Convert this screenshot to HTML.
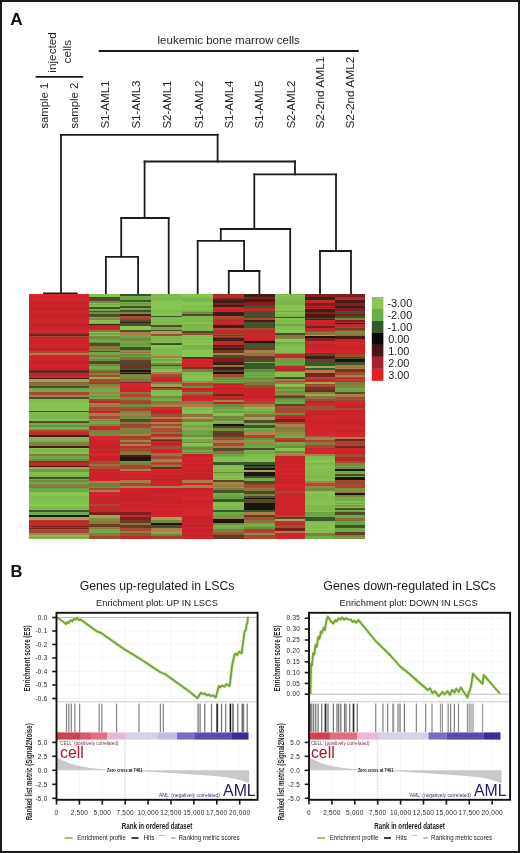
<!DOCTYPE html>
<html><head><meta charset="utf-8"><title>Figure</title>
<style>html,body{margin:0;padding:0;background:#fff;width:520px;height:853px;overflow:hidden}
svg{display:block;font-family:"Liberation Sans",sans-serif;will-change:transform}</style></head>
<body>
<svg width="520" height="853" viewBox="0 0 520 853" font-family='&quot;Liberation Sans&quot;, sans-serif'>
<rect x="0" y="0" width="520" height="853" fill="#ffffff"/>
<text x="10.30" y="25.20" font-size="17.20" text-anchor="start" fill="#111" font-weight="bold" >A</text>
<text transform="translate(56.00,52.40) rotate(-90)" font-size="11.80" text-anchor="middle" fill="#1e1e1e" font-weight="normal">injected</text>
<text transform="translate(70.80,51.70) rotate(-90)" font-size="11.80" text-anchor="middle" fill="#1e1e1e" font-weight="normal">cells</text>
<line x1="35.50" y1="76.80" x2="83.30" y2="76.80" stroke="#1c1c1c" stroke-width="1.80" />
<text x="157.50" y="44.20" font-size="11.80" text-anchor="start" fill="#1e1e1e" font-weight="normal" textLength="142.30" lengthAdjust="spacingAndGlyphs" >leukemic bone marrow cells</text>
<line x1="98.70" y1="51.00" x2="358.80" y2="51.00" stroke="#1c1c1c" stroke-width="1.90" />
<text transform="translate(47.80,128.60) rotate(-90)" font-size="11.30" text-anchor="start" fill="#1e1e1e" font-weight="normal">sample 1</text>
<text transform="translate(78.40,128.60) rotate(-90)" font-size="11.30" text-anchor="start" fill="#1e1e1e" font-weight="normal">sample 2</text>
<text transform="translate(109.30,128.60) rotate(-90)" font-size="11.55" text-anchor="start" fill="#1e1e1e" font-weight="normal">S1-AML1</text>
<text transform="translate(140.30,128.60) rotate(-90)" font-size="11.55" text-anchor="start" fill="#1e1e1e" font-weight="normal">S1-AML3</text>
<text transform="translate(171.40,128.60) rotate(-90)" font-size="11.55" text-anchor="start" fill="#1e1e1e" font-weight="normal">S2-AML1</text>
<text transform="translate(203.40,128.60) rotate(-90)" font-size="11.55" text-anchor="start" fill="#1e1e1e" font-weight="normal">S1-AML2</text>
<text transform="translate(233.20,128.60) rotate(-90)" font-size="11.55" text-anchor="start" fill="#1e1e1e" font-weight="normal">S1-AML4</text>
<text transform="translate(262.60,128.60) rotate(-90)" font-size="11.55" text-anchor="start" fill="#1e1e1e" font-weight="normal">S1-AML5</text>
<text transform="translate(294.50,128.60) rotate(-90)" font-size="11.55" text-anchor="start" fill="#1e1e1e" font-weight="normal">S2-AML2</text>
<text transform="translate(324.40,128.60) rotate(-90)" font-size="11.55" text-anchor="start" fill="#1e1e1e" font-weight="normal" textLength="72.00" lengthAdjust="spacingAndGlyphs">S2-2nd AML1</text>
<text transform="translate(354.40,128.60) rotate(-90)" font-size="11.55" text-anchor="start" fill="#1e1e1e" font-weight="normal" textLength="72.00" lengthAdjust="spacingAndGlyphs">S2-2nd AML2</text>
<g stroke-linecap="square">
<line x1="61.00" y1="134.80" x2="217.60" y2="134.80" stroke="#1c1c1c" stroke-width="1.80" />
<line x1="61.00" y1="134.80" x2="61.00" y2="293.30" stroke="#1c1c1c" stroke-width="1.80" />
<line x1="43.90" y1="293.30" x2="76.80" y2="293.30" stroke="#1c1c1c" stroke-width="1.80" />
<line x1="217.60" y1="134.80" x2="217.60" y2="161.50" stroke="#1c1c1c" stroke-width="1.80" />
<line x1="144.60" y1="161.50" x2="295.00" y2="161.50" stroke="#1c1c1c" stroke-width="1.80" />
<line x1="144.60" y1="161.50" x2="144.60" y2="218.00" stroke="#1c1c1c" stroke-width="1.80" />
<line x1="295.00" y1="161.50" x2="295.00" y2="174.30" stroke="#1c1c1c" stroke-width="1.80" />
<line x1="121.20" y1="218.00" x2="168.70" y2="218.00" stroke="#1c1c1c" stroke-width="1.80" />
<line x1="121.20" y1="218.00" x2="121.20" y2="256.80" stroke="#1c1c1c" stroke-width="1.80" />
<line x1="168.70" y1="218.00" x2="168.70" y2="294.00" stroke="#1c1c1c" stroke-width="1.80" />
<line x1="105.90" y1="256.80" x2="138.10" y2="256.80" stroke="#1c1c1c" stroke-width="1.80" />
<line x1="105.90" y1="256.80" x2="105.90" y2="294.00" stroke="#1c1c1c" stroke-width="1.80" />
<line x1="138.10" y1="256.80" x2="138.10" y2="294.00" stroke="#1c1c1c" stroke-width="1.80" />
<line x1="254.30" y1="174.30" x2="336.00" y2="174.30" stroke="#1c1c1c" stroke-width="1.80" />
<line x1="254.30" y1="174.30" x2="254.30" y2="229.00" stroke="#1c1c1c" stroke-width="1.80" />
<line x1="336.00" y1="174.30" x2="336.00" y2="251.00" stroke="#1c1c1c" stroke-width="1.80" />
<line x1="320.00" y1="251.00" x2="351.00" y2="251.00" stroke="#1c1c1c" stroke-width="1.80" />
<line x1="320.00" y1="251.00" x2="320.00" y2="294.00" stroke="#1c1c1c" stroke-width="1.80" />
<line x1="351.00" y1="251.00" x2="351.00" y2="294.00" stroke="#1c1c1c" stroke-width="1.80" />
<line x1="220.80" y1="229.00" x2="290.20" y2="229.00" stroke="#1c1c1c" stroke-width="1.80" />
<line x1="220.80" y1="229.00" x2="220.80" y2="240.80" stroke="#1c1c1c" stroke-width="1.80" />
<line x1="290.20" y1="229.00" x2="290.20" y2="294.00" stroke="#1c1c1c" stroke-width="1.80" />
<line x1="197.70" y1="240.80" x2="244.10" y2="240.80" stroke="#1c1c1c" stroke-width="1.80" />
<line x1="197.70" y1="240.80" x2="197.70" y2="294.00" stroke="#1c1c1c" stroke-width="1.80" />
<line x1="244.10" y1="240.80" x2="244.10" y2="271.00" stroke="#1c1c1c" stroke-width="1.80" />
<line x1="228.80" y1="271.00" x2="259.40" y2="271.00" stroke="#1c1c1c" stroke-width="1.80" />
<line x1="228.80" y1="271.00" x2="228.80" y2="294.00" stroke="#1c1c1c" stroke-width="1.80" />
<line x1="259.40" y1="271.00" x2="259.40" y2="294.00" stroke="#1c1c1c" stroke-width="1.80" />
</g>
<g shape-rendering="crispEdges">
<rect x="29.0" y="294.00" width="60.0" height="2.00" fill="#d6252b"/>
<rect x="29.0" y="296.00" width="60.0" height="3.00" fill="#d0242a"/>
<rect x="29.0" y="299.00" width="60.0" height="1.00" fill="#d4252b"/>
<rect x="29.0" y="300.00" width="60.0" height="1.00" fill="#ca2329"/>
<rect x="29.0" y="301.00" width="60.0" height="1.00" fill="#d5252b"/>
<rect x="29.0" y="302.00" width="60.0" height="1.50" fill="#c32228"/>
<rect x="29.0" y="303.50" width="60.0" height="3.00" fill="#cb2329"/>
<rect x="29.0" y="306.50" width="60.0" height="1.50" fill="#c42228"/>
<rect x="29.0" y="308.00" width="60.0" height="3.00" fill="#c42228"/>
<rect x="29.0" y="311.00" width="60.0" height="1.00" fill="#d6252b"/>
<rect x="29.0" y="312.00" width="60.0" height="1.00" fill="#cf242a"/>
<rect x="29.0" y="313.00" width="60.0" height="3.00" fill="#c42228"/>
<rect x="29.0" y="316.00" width="60.0" height="1.50" fill="#c42228"/>
<rect x="29.0" y="317.50" width="60.0" height="1.50" fill="#c92329"/>
<rect x="29.0" y="319.00" width="60.0" height="1.50" fill="#ce242a"/>
<rect x="29.0" y="320.50" width="60.0" height="1.00" fill="#ce242a"/>
<rect x="29.0" y="321.50" width="60.0" height="2.80" fill="#bc2c2a"/>
<rect x="29.0" y="324.30" width="60.0" height="1.50" fill="#c52228"/>
<rect x="29.0" y="325.80" width="60.0" height="1.50" fill="#ca2329"/>
<rect x="29.0" y="327.30" width="60.0" height="1.00" fill="#ce242a"/>
<rect x="29.0" y="328.30" width="60.0" height="1.50" fill="#cd242a"/>
<rect x="29.0" y="329.80" width="60.0" height="1.90" fill="#d3252b"/>
<rect x="29.0" y="331.70" width="60.0" height="2.40" fill="#bc2c2a"/>
<rect x="29.0" y="334.10" width="60.0" height="2.00" fill="#7d201e"/>
<rect x="29.0" y="336.10" width="60.0" height="1.20" fill="#a54b30"/>
<rect x="29.0" y="337.30" width="60.0" height="2.00" fill="#c82329"/>
<rect x="29.0" y="339.30" width="60.0" height="1.50" fill="#d1242a"/>
<rect x="29.0" y="340.80" width="60.0" height="1.50" fill="#c42228"/>
<rect x="29.0" y="342.30" width="60.0" height="2.00" fill="#cd242a"/>
<rect x="29.0" y="344.30" width="60.0" height="2.00" fill="#d2242b"/>
<rect x="29.0" y="346.30" width="60.0" height="2.00" fill="#cf242a"/>
<rect x="29.0" y="348.30" width="60.0" height="1.00" fill="#c52228"/>
<rect x="29.0" y="349.30" width="60.0" height="1.40" fill="#c62228"/>
<rect x="29.0" y="350.70" width="60.0" height="0.60" fill="#a54b30"/>
<rect x="29.0" y="351.30" width="60.0" height="1.30" fill="#a54b30"/>
<rect x="29.0" y="352.60" width="60.0" height="2.00" fill="#ac7d48"/>
<rect x="29.0" y="354.60" width="60.0" height="0.10" fill="#a54b30"/>
<rect x="29.0" y="354.70" width="60.0" height="1.00" fill="#d6252c"/>
<rect x="29.0" y="355.70" width="60.0" height="1.00" fill="#d2252b"/>
<rect x="29.0" y="356.70" width="60.0" height="2.00" fill="#ca2329"/>
<rect x="29.0" y="358.70" width="60.0" height="2.00" fill="#cf242a"/>
<rect x="29.0" y="360.70" width="60.0" height="3.00" fill="#c42228"/>
<rect x="29.0" y="363.70" width="60.0" height="1.00" fill="#d6252b"/>
<rect x="29.0" y="364.70" width="60.0" height="3.00" fill="#d1242a"/>
<rect x="29.0" y="367.70" width="60.0" height="1.00" fill="#c42228"/>
<rect x="29.0" y="368.70" width="60.0" height="1.50" fill="#d0242a"/>
<rect x="29.0" y="370.20" width="60.0" height="2.70" fill="#7d201e"/>
<rect x="29.0" y="372.90" width="60.0" height="3.00" fill="#b62b29"/>
<rect x="29.0" y="375.90" width="60.0" height="1.70" fill="#c12d2b"/>
<rect x="29.0" y="377.60" width="60.0" height="1.30" fill="#441e16"/>
<rect x="29.0" y="378.90" width="60.0" height="2.70" fill="#a5a258"/>
<rect x="29.0" y="381.60" width="60.0" height="2.00" fill="#846f3a"/>
<rect x="29.0" y="383.60" width="60.0" height="2.10" fill="#89733c"/>
<rect x="29.0" y="385.70" width="60.0" height="2.00" fill="#504c2a"/>
<rect x="29.0" y="387.70" width="60.0" height="1.00" fill="#6fa847"/>
<rect x="29.0" y="388.70" width="60.0" height="1.50" fill="#72ad49"/>
<rect x="29.0" y="390.20" width="60.0" height="1.50" fill="#72ac49"/>
<rect x="29.0" y="391.70" width="60.0" height="3.00" fill="#a2492f"/>
<rect x="29.0" y="394.70" width="60.0" height="0.40" fill="#9c472e"/>
<rect x="29.0" y="395.10" width="60.0" height="2.00" fill="#ac7d48"/>
<rect x="29.0" y="397.10" width="60.0" height="1.40" fill="#3a582a"/>
<rect x="29.0" y="398.50" width="60.0" height="3.00" fill="#81bb4e"/>
<rect x="29.0" y="401.50" width="60.0" height="2.00" fill="#88c452"/>
<rect x="29.0" y="403.50" width="60.0" height="3.00" fill="#87c452"/>
<rect x="29.0" y="406.50" width="60.0" height="2.00" fill="#85c151"/>
<rect x="29.0" y="408.50" width="60.0" height="2.00" fill="#85c151"/>
<rect x="29.0" y="410.50" width="60.0" height="0.20" fill="#89c653"/>
<rect x="29.0" y="410.70" width="60.0" height="1.30" fill="#504c2a"/>
<rect x="29.0" y="412.00" width="60.0" height="1.50" fill="#7db54c"/>
<rect x="29.0" y="413.50" width="60.0" height="1.50" fill="#7fb84d"/>
<rect x="29.0" y="415.00" width="60.0" height="1.50" fill="#7cb44b"/>
<rect x="29.0" y="416.50" width="60.0" height="1.50" fill="#80b94d"/>
<rect x="29.0" y="418.00" width="60.0" height="1.00" fill="#7eb64c"/>
<rect x="29.0" y="419.00" width="60.0" height="1.80" fill="#84bf50"/>
<rect x="29.0" y="420.80" width="60.0" height="2.00" fill="#504c2a"/>
<rect x="29.0" y="422.80" width="60.0" height="2.00" fill="#70aa48"/>
<rect x="29.0" y="424.80" width="60.0" height="2.00" fill="#768a3e"/>
<rect x="29.0" y="426.80" width="60.0" height="2.00" fill="#74b04b"/>
<rect x="29.0" y="428.80" width="60.0" height="1.00" fill="#6ea847"/>
<rect x="29.0" y="429.80" width="60.0" height="0.40" fill="#6ea747"/>
<rect x="29.0" y="430.20" width="60.0" height="2.00" fill="#a54b30"/>
<rect x="29.0" y="432.20" width="60.0" height="2.70" fill="#bc2c2a"/>
<rect x="29.0" y="434.90" width="60.0" height="2.00" fill="#441e16"/>
<rect x="29.0" y="436.90" width="60.0" height="3.00" fill="#7db64c"/>
<rect x="29.0" y="439.90" width="60.0" height="1.70" fill="#7db54c"/>
<rect x="29.0" y="441.60" width="60.0" height="2.10" fill="#768a3e"/>
<rect x="29.0" y="443.70" width="60.0" height="2.00" fill="#8c763e"/>
<rect x="29.0" y="445.70" width="60.0" height="2.00" fill="#441e16"/>
<rect x="29.0" y="447.70" width="60.0" height="1.00" fill="#89c653"/>
<rect x="29.0" y="448.70" width="60.0" height="3.00" fill="#7eb74c"/>
<rect x="29.0" y="451.70" width="60.0" height="2.00" fill="#84bf50"/>
<rect x="29.0" y="453.70" width="60.0" height="0.70" fill="#7cb44b"/>
<rect x="29.0" y="454.40" width="60.0" height="1.40" fill="#8c763e"/>
<rect x="29.0" y="455.80" width="60.0" height="2.40" fill="#70aa48"/>
<rect x="29.0" y="458.20" width="60.0" height="1.00" fill="#70aa48"/>
<rect x="29.0" y="459.20" width="60.0" height="1.30" fill="#768a3e"/>
<rect x="29.0" y="460.50" width="60.0" height="1.30" fill="#504c2a"/>
<rect x="29.0" y="461.80" width="60.0" height="1.00" fill="#b22a28"/>
<rect x="29.0" y="462.80" width="60.0" height="1.50" fill="#bc2c2a"/>
<rect x="29.0" y="464.30" width="60.0" height="1.50" fill="#bd2c2a"/>
<rect x="29.0" y="465.80" width="60.0" height="0.10" fill="#bc2c2a"/>
<rect x="29.0" y="465.90" width="60.0" height="1.40" fill="#441e16"/>
<rect x="29.0" y="467.30" width="60.0" height="1.40" fill="#a5a258"/>
<rect x="29.0" y="468.70" width="60.0" height="3.00" fill="#6ba245"/>
<rect x="29.0" y="471.70" width="60.0" height="0.30" fill="#74b14b"/>
<rect x="29.0" y="472.00" width="60.0" height="3.00" fill="#82bd4f"/>
<rect x="29.0" y="475.00" width="60.0" height="1.80" fill="#7db54c"/>
<rect x="29.0" y="476.80" width="60.0" height="2.00" fill="#3a582a"/>
<rect x="29.0" y="478.80" width="60.0" height="1.60" fill="#70aa48"/>
<rect x="29.0" y="480.40" width="60.0" height="1.60" fill="#768a3e"/>
<rect x="29.0" y="482.00" width="60.0" height="1.50" fill="#70aa48"/>
<rect x="29.0" y="483.50" width="60.0" height="2.00" fill="#768a3e"/>
<rect x="29.0" y="485.50" width="60.0" height="2.70" fill="#8c763e"/>
<rect x="29.0" y="488.20" width="60.0" height="1.50" fill="#6fa947"/>
<rect x="29.0" y="489.70" width="60.0" height="1.50" fill="#74b04b"/>
<rect x="29.0" y="491.20" width="60.0" height="0.40" fill="#6ba245"/>
<rect x="29.0" y="491.60" width="60.0" height="1.00" fill="#86c251"/>
<rect x="29.0" y="492.60" width="60.0" height="2.00" fill="#89c653"/>
<rect x="29.0" y="494.60" width="60.0" height="1.00" fill="#85c151"/>
<rect x="29.0" y="495.60" width="60.0" height="2.00" fill="#83bd4f"/>
<rect x="29.0" y="497.60" width="60.0" height="1.50" fill="#81ba4e"/>
<rect x="29.0" y="499.10" width="60.0" height="1.50" fill="#83be4f"/>
<rect x="29.0" y="500.60" width="60.0" height="2.00" fill="#84c050"/>
<rect x="29.0" y="502.60" width="60.0" height="1.50" fill="#87c352"/>
<rect x="29.0" y="504.10" width="60.0" height="3.00" fill="#86c251"/>
<rect x="29.0" y="507.10" width="60.0" height="1.50" fill="#7fb74d"/>
<rect x="29.0" y="508.60" width="60.0" height="1.80" fill="#81ba4e"/>
<rect x="29.0" y="510.40" width="60.0" height="2.00" fill="#3a582a"/>
<rect x="29.0" y="512.40" width="60.0" height="2.70" fill="#70aa48"/>
<rect x="29.0" y="515.10" width="60.0" height="2.00" fill="#19160f"/>
<rect x="29.0" y="517.10" width="60.0" height="2.70" fill="#a5a258"/>
<rect x="29.0" y="519.80" width="60.0" height="1.00" fill="#c32e2c"/>
<rect x="29.0" y="520.80" width="60.0" height="2.00" fill="#ba2b29"/>
<rect x="29.0" y="522.80" width="60.0" height="1.50" fill="#be2c2a"/>
<rect x="29.0" y="524.30" width="60.0" height="0.20" fill="#b92b29"/>
<rect x="29.0" y="524.50" width="60.0" height="1.60" fill="#bc2c2a"/>
<rect x="29.0" y="526.10" width="60.0" height="1.00" fill="#7d201e"/>
<rect x="29.0" y="527.10" width="60.0" height="1.30" fill="#bc2c2a"/>
<rect x="29.0" y="528.40" width="60.0" height="0.90" fill="#7d201e"/>
<rect x="29.0" y="529.30" width="60.0" height="1.50" fill="#a34a2f"/>
<rect x="29.0" y="530.80" width="60.0" height="1.80" fill="#9e482e"/>
<rect x="29.0" y="532.60" width="60.0" height="2.00" fill="#ac7d48"/>
<rect x="29.0" y="534.60" width="60.0" height="2.00" fill="#84bf50"/>
<rect x="29.0" y="536.60" width="60.0" height="1.60" fill="#70aa48"/>
<rect x="29.0" y="538.20" width="60.0" height="0.80" fill="#84bf50"/>
<rect x="89.0" y="294.00" width="31.0" height="1.00" fill="#88c552"/>
<rect x="89.0" y="295.00" width="31.0" height="1.50" fill="#82bd4f"/>
<rect x="89.0" y="296.50" width="31.0" height="0.90" fill="#82bc4f"/>
<rect x="89.0" y="297.40" width="31.0" height="2.00" fill="#4c4828"/>
<rect x="89.0" y="299.40" width="31.0" height="2.00" fill="#4f4b29"/>
<rect x="89.0" y="301.40" width="31.0" height="1.40" fill="#768a3e"/>
<rect x="89.0" y="302.80" width="31.0" height="1.30" fill="#84bf50"/>
<rect x="89.0" y="304.10" width="31.0" height="1.30" fill="#70aa48"/>
<rect x="89.0" y="305.40" width="31.0" height="1.30" fill="#84bf50"/>
<rect x="89.0" y="306.70" width="31.0" height="0.10" fill="#70aa48"/>
<rect x="89.0" y="306.80" width="31.0" height="2.00" fill="#3a582a"/>
<rect x="89.0" y="308.80" width="31.0" height="2.40" fill="#70aa48"/>
<rect x="89.0" y="311.20" width="31.0" height="1.00" fill="#3a582a"/>
<rect x="89.0" y="312.20" width="31.0" height="2.00" fill="#768a3e"/>
<rect x="89.0" y="314.20" width="31.0" height="2.40" fill="#504c2a"/>
<rect x="89.0" y="316.60" width="31.0" height="1.60" fill="#70aa48"/>
<rect x="89.0" y="318.20" width="31.0" height="2.10" fill="#768a3e"/>
<rect x="89.0" y="320.30" width="31.0" height="3.00" fill="#85c050"/>
<rect x="89.0" y="323.30" width="31.0" height="1.00" fill="#7eb74c"/>
<rect x="89.0" y="324.30" width="31.0" height="1.00" fill="#441e16"/>
<rect x="89.0" y="325.30" width="31.0" height="1.50" fill="#c32228"/>
<rect x="89.0" y="326.80" width="31.0" height="1.00" fill="#cd242a"/>
<rect x="89.0" y="327.80" width="31.0" height="1.50" fill="#cc2329"/>
<rect x="89.0" y="329.30" width="31.0" height="1.10" fill="#d4252b"/>
<rect x="89.0" y="330.40" width="31.0" height="2.00" fill="#8c763e"/>
<rect x="89.0" y="332.40" width="31.0" height="1.00" fill="#84bf50"/>
<rect x="89.0" y="333.40" width="31.0" height="1.60" fill="#70aa48"/>
<rect x="89.0" y="335.00" width="31.0" height="1.30" fill="#84bf50"/>
<rect x="89.0" y="336.30" width="31.0" height="0.10" fill="#70aa48"/>
<rect x="89.0" y="336.40" width="31.0" height="2.70" fill="#768a3e"/>
<rect x="89.0" y="339.10" width="31.0" height="2.40" fill="#70aa48"/>
<rect x="89.0" y="341.50" width="31.0" height="1.60" fill="#768a3e"/>
<rect x="89.0" y="343.10" width="31.0" height="2.70" fill="#3a582a"/>
<rect x="89.0" y="345.80" width="31.0" height="2.70" fill="#8c763e"/>
<rect x="89.0" y="348.50" width="31.0" height="2.40" fill="#768a3e"/>
<rect x="89.0" y="350.90" width="31.0" height="1.10" fill="#504c2a"/>
<rect x="89.0" y="352.00" width="31.0" height="2.70" fill="#70aa48"/>
<rect x="89.0" y="354.70" width="31.0" height="2.00" fill="#8c763e"/>
<rect x="89.0" y="356.70" width="31.0" height="2.00" fill="#70aa48"/>
<rect x="89.0" y="358.70" width="31.0" height="2.10" fill="#768a3e"/>
<rect x="89.0" y="360.80" width="31.0" height="2.70" fill="#504c2a"/>
<rect x="89.0" y="363.50" width="31.0" height="2.00" fill="#768a3e"/>
<rect x="89.0" y="365.50" width="31.0" height="1.50" fill="#6aa144"/>
<rect x="89.0" y="367.00" width="31.0" height="1.80" fill="#73af4a"/>
<rect x="89.0" y="368.80" width="31.0" height="2.10" fill="#768a3e"/>
<rect x="89.0" y="370.90" width="31.0" height="2.00" fill="#a54b30"/>
<rect x="89.0" y="372.90" width="31.0" height="2.00" fill="#768a3e"/>
<rect x="89.0" y="374.90" width="31.0" height="2.00" fill="#a54b30"/>
<rect x="89.0" y="376.90" width="31.0" height="2.00" fill="#a5a258"/>
<rect x="89.0" y="378.90" width="31.0" height="2.10" fill="#a54b30"/>
<rect x="89.0" y="381.00" width="31.0" height="2.40" fill="#a54b30"/>
<rect x="89.0" y="383.40" width="31.0" height="0.20" fill="#bc2c2a"/>
<rect x="89.0" y="383.60" width="31.0" height="2.70" fill="#768a3e"/>
<rect x="89.0" y="386.30" width="31.0" height="2.10" fill="#ac7d48"/>
<rect x="89.0" y="388.40" width="31.0" height="1.50" fill="#6fa947"/>
<rect x="89.0" y="389.90" width="31.0" height="1.00" fill="#73af4a"/>
<rect x="89.0" y="390.90" width="31.0" height="0.80" fill="#70aa48"/>
<rect x="89.0" y="391.70" width="31.0" height="2.70" fill="#ac7d48"/>
<rect x="89.0" y="394.40" width="31.0" height="1.30" fill="#70aa48"/>
<rect x="89.0" y="395.70" width="31.0" height="1.30" fill="#768a3e"/>
<rect x="89.0" y="397.00" width="31.0" height="1.50" fill="#70aa48"/>
<rect x="89.0" y="398.50" width="31.0" height="2.00" fill="#a54b30"/>
<rect x="89.0" y="400.50" width="31.0" height="2.00" fill="#bc2c2a"/>
<rect x="89.0" y="402.50" width="31.0" height="2.40" fill="#ac7d48"/>
<rect x="89.0" y="404.90" width="31.0" height="1.00" fill="#8c763e"/>
<rect x="89.0" y="405.90" width="31.0" height="0.60" fill="#ac7d48"/>
<rect x="89.0" y="406.50" width="31.0" height="3.00" fill="#a84c31"/>
<rect x="89.0" y="409.50" width="31.0" height="1.00" fill="#aa4d31"/>
<rect x="89.0" y="410.50" width="31.0" height="0.20" fill="#9f482e"/>
<rect x="89.0" y="410.70" width="31.0" height="2.70" fill="#bc2c2a"/>
<rect x="89.0" y="413.40" width="31.0" height="2.70" fill="#ac7d48"/>
<rect x="89.0" y="416.10" width="31.0" height="2.70" fill="#a54b30"/>
<rect x="89.0" y="418.80" width="31.0" height="1.00" fill="#70aa48"/>
<rect x="89.0" y="419.80" width="31.0" height="1.00" fill="#768a3e"/>
<rect x="89.0" y="420.80" width="31.0" height="2.40" fill="#70aa48"/>
<rect x="89.0" y="423.20" width="31.0" height="0.30" fill="#70aa48"/>
<rect x="89.0" y="423.50" width="31.0" height="2.70" fill="#768a3e"/>
<rect x="89.0" y="426.20" width="31.0" height="1.00" fill="#bf2d2b"/>
<rect x="89.0" y="427.20" width="31.0" height="1.00" fill="#b92b29"/>
<rect x="89.0" y="428.20" width="31.0" height="1.50" fill="#be2c2a"/>
<rect x="89.0" y="429.70" width="31.0" height="0.50" fill="#ba2c2a"/>
<rect x="89.0" y="430.20" width="31.0" height="2.00" fill="#8c763e"/>
<rect x="89.0" y="432.20" width="31.0" height="3.00" fill="#75893d"/>
<rect x="89.0" y="435.20" width="31.0" height="1.10" fill="#778b3f"/>
<rect x="89.0" y="436.30" width="31.0" height="2.00" fill="#d6252b"/>
<rect x="89.0" y="438.30" width="31.0" height="1.50" fill="#d4252b"/>
<rect x="89.0" y="439.80" width="31.0" height="1.50" fill="#cb2329"/>
<rect x="89.0" y="441.30" width="31.0" height="3.00" fill="#cc2329"/>
<rect x="89.0" y="444.30" width="31.0" height="1.00" fill="#d0242a"/>
<rect x="89.0" y="445.30" width="31.0" height="3.00" fill="#c42228"/>
<rect x="89.0" y="448.30" width="31.0" height="0.10" fill="#d3252b"/>
<rect x="89.0" y="448.40" width="31.0" height="1.30" fill="#bc2c2a"/>
<rect x="89.0" y="449.70" width="31.0" height="1.50" fill="#d6252b"/>
<rect x="89.0" y="451.20" width="31.0" height="2.00" fill="#c62228"/>
<rect x="89.0" y="453.20" width="31.0" height="1.50" fill="#d7252c"/>
<rect x="89.0" y="454.70" width="31.0" height="1.50" fill="#d2252b"/>
<rect x="89.0" y="456.20" width="31.0" height="1.00" fill="#cb2329"/>
<rect x="89.0" y="457.20" width="31.0" height="3.00" fill="#c62228"/>
<rect x="89.0" y="460.20" width="31.0" height="1.00" fill="#c62228"/>
<rect x="89.0" y="461.20" width="31.0" height="2.70" fill="#a54b30"/>
<rect x="89.0" y="463.90" width="31.0" height="2.10" fill="#8c763e"/>
<rect x="89.0" y="466.00" width="31.0" height="3.00" fill="#ac4e32"/>
<rect x="89.0" y="469.00" width="31.0" height="0.40" fill="#a1492f"/>
<rect x="89.0" y="469.40" width="31.0" height="1.50" fill="#ca2329"/>
<rect x="89.0" y="470.90" width="31.0" height="1.00" fill="#d2242b"/>
<rect x="89.0" y="471.90" width="31.0" height="1.00" fill="#ca2329"/>
<rect x="89.0" y="472.90" width="31.0" height="3.00" fill="#cc2329"/>
<rect x="89.0" y="475.90" width="31.0" height="1.00" fill="#cb2329"/>
<rect x="89.0" y="476.90" width="31.0" height="2.00" fill="#cd242a"/>
<rect x="89.0" y="478.90" width="31.0" height="1.00" fill="#c52228"/>
<rect x="89.0" y="479.90" width="31.0" height="0.90" fill="#d7252c"/>
<rect x="89.0" y="480.80" width="31.0" height="2.00" fill="#ac7d48"/>
<rect x="89.0" y="482.80" width="31.0" height="1.00" fill="#70833b"/>
<rect x="89.0" y="483.80" width="31.0" height="2.00" fill="#6f823b"/>
<rect x="89.0" y="485.80" width="31.0" height="1.50" fill="#72853c"/>
<rect x="89.0" y="487.30" width="31.0" height="0.20" fill="#798d3f"/>
<rect x="89.0" y="487.50" width="31.0" height="2.10" fill="#a54b30"/>
<rect x="89.0" y="489.60" width="31.0" height="2.00" fill="#ac7d48"/>
<rect x="89.0" y="491.60" width="31.0" height="2.00" fill="#cb2329"/>
<rect x="89.0" y="493.60" width="31.0" height="3.00" fill="#d1242a"/>
<rect x="89.0" y="496.60" width="31.0" height="1.00" fill="#c82329"/>
<rect x="89.0" y="497.60" width="31.0" height="2.00" fill="#bc2c2a"/>
<rect x="89.0" y="499.60" width="31.0" height="1.50" fill="#cb2329"/>
<rect x="89.0" y="501.10" width="31.0" height="1.00" fill="#c82329"/>
<rect x="89.0" y="502.10" width="31.0" height="1.00" fill="#d0242a"/>
<rect x="89.0" y="503.10" width="31.0" height="0.60" fill="#c42228"/>
<rect x="89.0" y="503.70" width="31.0" height="2.70" fill="#a54b30"/>
<rect x="89.0" y="506.40" width="31.0" height="1.00" fill="#cf242a"/>
<rect x="89.0" y="507.40" width="31.0" height="1.60" fill="#bc2c2a"/>
<rect x="89.0" y="509.00" width="31.0" height="1.00" fill="#cf242a"/>
<rect x="89.0" y="510.00" width="31.0" height="2.00" fill="#bc2c2a"/>
<rect x="89.0" y="512.00" width="31.0" height="0.40" fill="#cf242a"/>
<rect x="89.0" y="512.40" width="31.0" height="2.70" fill="#7d201e"/>
<rect x="89.0" y="515.10" width="31.0" height="2.70" fill="#a5a258"/>
<rect x="89.0" y="517.80" width="31.0" height="2.00" fill="#7b8f40"/>
<rect x="89.0" y="519.80" width="31.0" height="1.40" fill="#7a8f40"/>
<rect x="89.0" y="521.20" width="31.0" height="2.70" fill="#8c763e"/>
<rect x="89.0" y="523.90" width="31.0" height="2.70" fill="#693c24"/>
<rect x="89.0" y="526.60" width="31.0" height="2.70" fill="#8c763e"/>
<rect x="89.0" y="529.30" width="31.0" height="2.00" fill="#70aa48"/>
<rect x="89.0" y="531.30" width="31.0" height="1.00" fill="#6fa947"/>
<rect x="89.0" y="532.30" width="31.0" height="1.00" fill="#74b04a"/>
<rect x="89.0" y="533.30" width="31.0" height="2.70" fill="#8c763e"/>
<rect x="89.0" y="536.00" width="31.0" height="1.50" fill="#9f482e"/>
<rect x="89.0" y="537.50" width="31.0" height="1.50" fill="#9e482e"/>
<rect x="120.0" y="294.00" width="31.0" height="2.00" fill="#3a582a"/>
<rect x="120.0" y="296.00" width="31.0" height="2.00" fill="#70aa48"/>
<rect x="120.0" y="298.00" width="31.0" height="1.50" fill="#6da546"/>
<rect x="120.0" y="299.50" width="31.0" height="0.50" fill="#6ca446"/>
<rect x="120.0" y="300.00" width="31.0" height="2.00" fill="#3a582a"/>
<rect x="120.0" y="302.00" width="31.0" height="1.00" fill="#74b14b"/>
<rect x="120.0" y="303.00" width="31.0" height="1.00" fill="#69a044"/>
<rect x="120.0" y="304.00" width="31.0" height="1.50" fill="#6fa947"/>
<rect x="120.0" y="305.50" width="31.0" height="2.00" fill="#504c2a"/>
<rect x="120.0" y="307.50" width="31.0" height="2.00" fill="#70aa48"/>
<rect x="120.0" y="309.50" width="31.0" height="2.00" fill="#3a582a"/>
<rect x="120.0" y="311.50" width="31.0" height="0.70" fill="#70aa48"/>
<rect x="120.0" y="312.20" width="31.0" height="2.00" fill="#768a3e"/>
<rect x="120.0" y="314.20" width="31.0" height="2.00" fill="#441e16"/>
<rect x="120.0" y="316.20" width="31.0" height="2.40" fill="#a54b30"/>
<rect x="120.0" y="318.60" width="31.0" height="1.60" fill="#bc2c2a"/>
<rect x="120.0" y="320.20" width="31.0" height="0.10" fill="#a54b30"/>
<rect x="120.0" y="320.30" width="31.0" height="1.60" fill="#504c2a"/>
<rect x="120.0" y="321.90" width="31.0" height="1.30" fill="#441e16"/>
<rect x="120.0" y="323.20" width="31.0" height="0.40" fill="#504c2a"/>
<rect x="120.0" y="323.60" width="31.0" height="2.70" fill="#3a582a"/>
<rect x="120.0" y="326.30" width="31.0" height="3.00" fill="#89c653"/>
<rect x="120.0" y="329.30" width="31.0" height="1.00" fill="#87c452"/>
<rect x="120.0" y="330.30" width="31.0" height="0.10" fill="#7db54c"/>
<rect x="120.0" y="330.40" width="31.0" height="2.00" fill="#504c2a"/>
<rect x="120.0" y="332.40" width="31.0" height="2.70" fill="#ac7d48"/>
<rect x="120.0" y="335.10" width="31.0" height="2.00" fill="#6ea747"/>
<rect x="120.0" y="337.10" width="31.0" height="1.00" fill="#6aa144"/>
<rect x="120.0" y="338.10" width="31.0" height="0.30" fill="#73af4a"/>
<rect x="120.0" y="338.40" width="31.0" height="2.40" fill="#768a3e"/>
<rect x="120.0" y="340.80" width="31.0" height="1.00" fill="#70aa48"/>
<rect x="120.0" y="341.80" width="31.0" height="2.00" fill="#6aa144"/>
<rect x="120.0" y="343.80" width="31.0" height="1.50" fill="#6ba245"/>
<rect x="120.0" y="345.30" width="31.0" height="0.50" fill="#69a044"/>
<rect x="120.0" y="345.80" width="31.0" height="1.60" fill="#70aa48"/>
<rect x="120.0" y="347.40" width="31.0" height="2.40" fill="#504c2a"/>
<rect x="120.0" y="349.80" width="31.0" height="1.60" fill="#768a3e"/>
<rect x="120.0" y="351.40" width="31.0" height="0.60" fill="#70aa48"/>
<rect x="120.0" y="352.00" width="31.0" height="0.70" fill="#8c763e"/>
<rect x="120.0" y="352.70" width="31.0" height="1.60" fill="#70aa48"/>
<rect x="120.0" y="354.30" width="31.0" height="1.30" fill="#768a3e"/>
<rect x="120.0" y="355.60" width="31.0" height="1.10" fill="#70aa48"/>
<rect x="120.0" y="356.70" width="31.0" height="1.50" fill="#846f3a"/>
<rect x="120.0" y="358.20" width="31.0" height="1.90" fill="#85703b"/>
<rect x="120.0" y="360.10" width="31.0" height="2.00" fill="#4f4b2a"/>
<rect x="120.0" y="362.10" width="31.0" height="1.40" fill="#4d4929"/>
<rect x="120.0" y="363.50" width="31.0" height="1.00" fill="#643922"/>
<rect x="120.0" y="364.50" width="31.0" height="1.00" fill="#643922"/>
<rect x="120.0" y="365.50" width="31.0" height="1.00" fill="#673b23"/>
<rect x="120.0" y="366.50" width="31.0" height="0.30" fill="#663a23"/>
<rect x="120.0" y="366.80" width="31.0" height="1.50" fill="#4c4828"/>
<rect x="120.0" y="368.30" width="31.0" height="1.50" fill="#504c2a"/>
<rect x="120.0" y="369.80" width="31.0" height="0.40" fill="#514d2b"/>
<rect x="120.0" y="370.20" width="31.0" height="1.30" fill="#19160f"/>
<rect x="120.0" y="371.50" width="31.0" height="1.60" fill="#504c2a"/>
<rect x="120.0" y="373.10" width="31.0" height="0.50" fill="#19160f"/>
<rect x="120.0" y="373.60" width="31.0" height="1.50" fill="#6f823b"/>
<rect x="120.0" y="375.10" width="31.0" height="3.00" fill="#788c3f"/>
<rect x="120.0" y="378.10" width="31.0" height="0.20" fill="#7a8e40"/>
<rect x="120.0" y="378.30" width="31.0" height="1.00" fill="#8f793f"/>
<rect x="120.0" y="379.30" width="31.0" height="1.50" fill="#85703b"/>
<rect x="120.0" y="380.80" width="31.0" height="0.80" fill="#85703b"/>
<rect x="120.0" y="381.60" width="31.0" height="1.40" fill="#7d201e"/>
<rect x="120.0" y="383.00" width="31.0" height="2.00" fill="#d6252c"/>
<rect x="120.0" y="385.00" width="31.0" height="3.00" fill="#d4252b"/>
<rect x="120.0" y="388.00" width="31.0" height="1.00" fill="#d0242a"/>
<rect x="120.0" y="389.00" width="31.0" height="1.50" fill="#cd242a"/>
<rect x="120.0" y="390.50" width="31.0" height="1.00" fill="#cc2329"/>
<rect x="120.0" y="391.50" width="31.0" height="0.20" fill="#d2252b"/>
<rect x="120.0" y="391.70" width="31.0" height="2.70" fill="#8c763e"/>
<rect x="120.0" y="394.40" width="31.0" height="2.70" fill="#a54b30"/>
<rect x="120.0" y="397.10" width="31.0" height="2.70" fill="#768a3e"/>
<rect x="120.0" y="399.80" width="31.0" height="1.00" fill="#a64b30"/>
<rect x="120.0" y="400.80" width="31.0" height="1.00" fill="#a74c31"/>
<rect x="120.0" y="401.80" width="31.0" height="2.00" fill="#9f482e"/>
<rect x="120.0" y="403.80" width="31.0" height="2.70" fill="#768a3e"/>
<rect x="120.0" y="406.50" width="31.0" height="1.00" fill="#a94d31"/>
<rect x="120.0" y="407.50" width="31.0" height="1.50" fill="#a74c31"/>
<rect x="120.0" y="409.00" width="31.0" height="1.50" fill="#9f482e"/>
<rect x="120.0" y="410.50" width="31.0" height="0.20" fill="#a34a2f"/>
<rect x="120.0" y="410.70" width="31.0" height="2.70" fill="#768a3e"/>
<rect x="120.0" y="413.40" width="31.0" height="2.70" fill="#ac7d48"/>
<rect x="120.0" y="416.10" width="31.0" height="2.70" fill="#768a3e"/>
<rect x="120.0" y="418.80" width="31.0" height="2.70" fill="#504c2a"/>
<rect x="120.0" y="421.50" width="31.0" height="2.70" fill="#8c763e"/>
<rect x="120.0" y="424.20" width="31.0" height="3.00" fill="#9c472d"/>
<rect x="120.0" y="427.20" width="31.0" height="0.30" fill="#a84c31"/>
<rect x="120.0" y="427.50" width="31.0" height="2.70" fill="#8c763e"/>
<rect x="120.0" y="430.20" width="31.0" height="1.50" fill="#70833b"/>
<rect x="120.0" y="431.70" width="31.0" height="1.50" fill="#73863c"/>
<rect x="120.0" y="433.20" width="31.0" height="0.40" fill="#768a3e"/>
<rect x="120.0" y="433.60" width="31.0" height="2.70" fill="#ac7d48"/>
<rect x="120.0" y="436.30" width="31.0" height="1.50" fill="#9b472d"/>
<rect x="120.0" y="437.80" width="31.0" height="1.00" fill="#a34a2f"/>
<rect x="120.0" y="438.80" width="31.0" height="1.00" fill="#a74c30"/>
<rect x="120.0" y="439.80" width="31.0" height="0.50" fill="#a0492f"/>
<rect x="120.0" y="440.30" width="31.0" height="2.00" fill="#ac7d48"/>
<rect x="120.0" y="442.30" width="31.0" height="2.00" fill="#a54b30"/>
<rect x="120.0" y="444.30" width="31.0" height="1.40" fill="#ac7d48"/>
<rect x="120.0" y="445.70" width="31.0" height="2.70" fill="#bc2c2a"/>
<rect x="120.0" y="448.40" width="31.0" height="1.00" fill="#ab4e32"/>
<rect x="120.0" y="449.40" width="31.0" height="1.50" fill="#a0492f"/>
<rect x="120.0" y="450.90" width="31.0" height="1.00" fill="#ab4e32"/>
<rect x="120.0" y="451.90" width="31.0" height="0.50" fill="#a0492f"/>
<rect x="120.0" y="452.40" width="31.0" height="2.70" fill="#8c763e"/>
<rect x="120.0" y="455.10" width="31.0" height="2.00" fill="#441e16"/>
<rect x="120.0" y="457.10" width="31.0" height="1.00" fill="#1a160f"/>
<rect x="120.0" y="458.10" width="31.0" height="2.40" fill="#1a1710"/>
<rect x="120.0" y="460.50" width="31.0" height="2.70" fill="#768a3e"/>
<rect x="120.0" y="463.20" width="31.0" height="2.00" fill="#8c763e"/>
<rect x="120.0" y="465.20" width="31.0" height="3.00" fill="#9f482e"/>
<rect x="120.0" y="468.20" width="31.0" height="0.50" fill="#9c472d"/>
<rect x="120.0" y="468.70" width="31.0" height="2.70" fill="#ac7d48"/>
<rect x="120.0" y="471.40" width="31.0" height="1.00" fill="#c62228"/>
<rect x="120.0" y="472.40" width="31.0" height="2.00" fill="#d6252b"/>
<rect x="120.0" y="474.40" width="31.0" height="1.50" fill="#cf242a"/>
<rect x="120.0" y="475.90" width="31.0" height="2.00" fill="#d5252b"/>
<rect x="120.0" y="477.90" width="31.0" height="1.60" fill="#c72328"/>
<rect x="120.0" y="479.50" width="31.0" height="3.00" fill="#a87a47"/>
<rect x="120.0" y="482.50" width="31.0" height="0.30" fill="#a27644"/>
<rect x="120.0" y="482.80" width="31.0" height="2.70" fill="#a54b30"/>
<rect x="120.0" y="485.50" width="31.0" height="2.70" fill="#ac7d48"/>
<rect x="120.0" y="488.20" width="31.0" height="3.00" fill="#d1242a"/>
<rect x="120.0" y="491.20" width="31.0" height="3.00" fill="#c92329"/>
<rect x="120.0" y="494.20" width="31.0" height="1.50" fill="#cb2329"/>
<rect x="120.0" y="495.70" width="31.0" height="3.00" fill="#c92329"/>
<rect x="120.0" y="498.70" width="31.0" height="2.00" fill="#c32227"/>
<rect x="120.0" y="500.70" width="31.0" height="2.00" fill="#d4252b"/>
<rect x="120.0" y="502.70" width="31.0" height="1.00" fill="#d6252b"/>
<rect x="120.0" y="503.70" width="31.0" height="1.50" fill="#d1242a"/>
<rect x="120.0" y="505.20" width="31.0" height="2.00" fill="#c82329"/>
<rect x="120.0" y="507.20" width="31.0" height="1.00" fill="#cb2329"/>
<rect x="120.0" y="508.20" width="31.0" height="1.00" fill="#ca2329"/>
<rect x="120.0" y="509.20" width="31.0" height="2.60" fill="#d2252b"/>
<rect x="120.0" y="511.80" width="31.0" height="2.70" fill="#7d201e"/>
<rect x="120.0" y="514.50" width="31.0" height="2.60" fill="#bc2c2a"/>
<rect x="120.0" y="517.10" width="31.0" height="2.70" fill="#7d201e"/>
<rect x="120.0" y="519.80" width="31.0" height="2.70" fill="#693c24"/>
<rect x="120.0" y="522.50" width="31.0" height="2.70" fill="#8c763e"/>
<rect x="120.0" y="525.20" width="31.0" height="2.70" fill="#693c24"/>
<rect x="120.0" y="527.90" width="31.0" height="2.70" fill="#a54b30"/>
<rect x="120.0" y="530.60" width="31.0" height="2.70" fill="#768a3e"/>
<rect x="120.0" y="533.30" width="31.0" height="2.70" fill="#a54b30"/>
<rect x="120.0" y="536.00" width="31.0" height="1.00" fill="#b62b29"/>
<rect x="120.0" y="537.00" width="31.0" height="1.00" fill="#c02d2b"/>
<rect x="120.0" y="538.00" width="31.0" height="1.00" fill="#bd2c2a"/>
<rect x="151.0" y="294.00" width="31.0" height="1.50" fill="#7fb84d"/>
<rect x="151.0" y="295.50" width="31.0" height="2.00" fill="#82bc4f"/>
<rect x="151.0" y="297.50" width="31.0" height="2.00" fill="#7fb74d"/>
<rect x="151.0" y="299.50" width="31.0" height="2.00" fill="#86c351"/>
<rect x="151.0" y="301.50" width="31.0" height="3.00" fill="#88c452"/>
<rect x="151.0" y="304.50" width="31.0" height="3.00" fill="#88c553"/>
<rect x="151.0" y="307.50" width="31.0" height="1.50" fill="#86c151"/>
<rect x="151.0" y="309.00" width="31.0" height="1.00" fill="#88c553"/>
<rect x="151.0" y="310.00" width="31.0" height="3.00" fill="#82bc4f"/>
<rect x="151.0" y="313.00" width="31.0" height="1.50" fill="#85c050"/>
<rect x="151.0" y="314.50" width="31.0" height="1.10" fill="#82bd4f"/>
<rect x="151.0" y="315.60" width="31.0" height="1.30" fill="#3a582a"/>
<rect x="151.0" y="316.90" width="31.0" height="1.50" fill="#7eb74d"/>
<rect x="151.0" y="318.40" width="31.0" height="3.00" fill="#81ba4e"/>
<rect x="151.0" y="321.40" width="31.0" height="2.00" fill="#7fb84d"/>
<rect x="151.0" y="323.40" width="31.0" height="1.60" fill="#81bb4e"/>
<rect x="151.0" y="325.00" width="31.0" height="2.00" fill="#504c2a"/>
<rect x="151.0" y="327.00" width="31.0" height="2.70" fill="#70aa48"/>
<rect x="151.0" y="329.70" width="31.0" height="1.30" fill="#504c2a"/>
<rect x="151.0" y="331.00" width="31.0" height="2.70" fill="#a5a258"/>
<rect x="151.0" y="333.70" width="31.0" height="2.00" fill="#a54b30"/>
<rect x="151.0" y="335.70" width="31.0" height="1.50" fill="#80b94e"/>
<rect x="151.0" y="337.20" width="31.0" height="3.00" fill="#7eb64c"/>
<rect x="151.0" y="340.20" width="31.0" height="1.50" fill="#7db54c"/>
<rect x="151.0" y="341.70" width="31.0" height="1.40" fill="#83be50"/>
<rect x="151.0" y="343.10" width="31.0" height="2.10" fill="#3a582a"/>
<rect x="151.0" y="345.20" width="31.0" height="3.00" fill="#88c552"/>
<rect x="151.0" y="348.20" width="31.0" height="3.00" fill="#82bc4f"/>
<rect x="151.0" y="351.20" width="31.0" height="1.50" fill="#7fb84d"/>
<rect x="151.0" y="352.70" width="31.0" height="1.50" fill="#81ba4e"/>
<rect x="151.0" y="354.20" width="31.0" height="1.00" fill="#80ba4e"/>
<rect x="151.0" y="355.20" width="31.0" height="0.80" fill="#7fb84d"/>
<rect x="151.0" y="356.00" width="31.0" height="2.10" fill="#ac7d48"/>
<rect x="151.0" y="358.10" width="31.0" height="1.00" fill="#84bf50"/>
<rect x="151.0" y="359.10" width="31.0" height="2.00" fill="#70aa48"/>
<rect x="151.0" y="361.10" width="31.0" height="1.70" fill="#84bf50"/>
<rect x="151.0" y="362.80" width="31.0" height="2.00" fill="#768a3e"/>
<rect x="151.0" y="364.80" width="31.0" height="1.40" fill="#3a582a"/>
<rect x="151.0" y="366.20" width="31.0" height="2.60" fill="#70aa48"/>
<rect x="151.0" y="368.80" width="31.0" height="2.70" fill="#84bf50"/>
<rect x="151.0" y="371.50" width="31.0" height="2.70" fill="#ac7d48"/>
<rect x="151.0" y="374.20" width="31.0" height="2.70" fill="#a54b30"/>
<rect x="151.0" y="376.90" width="31.0" height="3.00" fill="#d2252b"/>
<rect x="151.0" y="379.90" width="31.0" height="1.50" fill="#ca2329"/>
<rect x="151.0" y="381.40" width="31.0" height="0.20" fill="#d2252b"/>
<rect x="151.0" y="381.60" width="31.0" height="2.00" fill="#8c763e"/>
<rect x="151.0" y="383.60" width="31.0" height="3.00" fill="#a09d55"/>
<rect x="151.0" y="386.60" width="31.0" height="0.40" fill="#9d9a54"/>
<rect x="151.0" y="387.00" width="31.0" height="1.00" fill="#7d201e"/>
<rect x="151.0" y="388.00" width="31.0" height="1.60" fill="#a54b30"/>
<rect x="151.0" y="389.60" width="31.0" height="0.10" fill="#7d201e"/>
<rect x="151.0" y="389.70" width="31.0" height="3.00" fill="#81bb4e"/>
<rect x="151.0" y="392.70" width="31.0" height="3.00" fill="#82bc4f"/>
<rect x="151.0" y="395.70" width="31.0" height="0.10" fill="#87c452"/>
<rect x="151.0" y="395.80" width="31.0" height="2.00" fill="#768a3e"/>
<rect x="151.0" y="397.80" width="31.0" height="1.00" fill="#6ba245"/>
<rect x="151.0" y="398.80" width="31.0" height="2.30" fill="#71ac49"/>
<rect x="151.0" y="401.10" width="31.0" height="2.70" fill="#8c763e"/>
<rect x="151.0" y="403.80" width="31.0" height="2.70" fill="#ac7d48"/>
<rect x="151.0" y="406.50" width="31.0" height="3.00" fill="#d7252c"/>
<rect x="151.0" y="409.50" width="31.0" height="3.00" fill="#c32227"/>
<rect x="151.0" y="412.50" width="31.0" height="1.50" fill="#d6252b"/>
<rect x="151.0" y="414.00" width="31.0" height="2.70" fill="#a54b30"/>
<rect x="151.0" y="416.70" width="31.0" height="2.10" fill="#ac7d48"/>
<rect x="151.0" y="418.80" width="31.0" height="2.70" fill="#bc2c2a"/>
<rect x="151.0" y="421.50" width="31.0" height="2.00" fill="#ac7d48"/>
<rect x="151.0" y="423.50" width="31.0" height="2.70" fill="#a54b30"/>
<rect x="151.0" y="426.20" width="31.0" height="2.00" fill="#ac7d48"/>
<rect x="151.0" y="428.20" width="31.0" height="3.00" fill="#ab4e32"/>
<rect x="151.0" y="431.20" width="31.0" height="0.40" fill="#a84c31"/>
<rect x="151.0" y="431.60" width="31.0" height="2.60" fill="#8c763e"/>
<rect x="151.0" y="434.20" width="31.0" height="1.30" fill="#bc2c2a"/>
<rect x="151.0" y="435.50" width="31.0" height="1.30" fill="#a54b30"/>
<rect x="151.0" y="436.80" width="31.0" height="2.40" fill="#ac7d48"/>
<rect x="151.0" y="439.20" width="31.0" height="0.40" fill="#bc2c2a"/>
<rect x="151.0" y="439.60" width="31.0" height="1.00" fill="#7d201e"/>
<rect x="151.0" y="440.60" width="31.0" height="2.40" fill="#bc2c2a"/>
<rect x="151.0" y="443.00" width="31.0" height="1.00" fill="#c32227"/>
<rect x="151.0" y="444.00" width="31.0" height="1.50" fill="#c72328"/>
<rect x="151.0" y="445.50" width="31.0" height="0.90" fill="#d0242a"/>
<rect x="151.0" y="446.40" width="31.0" height="2.60" fill="#a54b30"/>
<rect x="151.0" y="449.00" width="31.0" height="2.00" fill="#d7252c"/>
<rect x="151.0" y="451.00" width="31.0" height="2.00" fill="#ce242a"/>
<rect x="151.0" y="453.00" width="31.0" height="0.10" fill="#d1242a"/>
<rect x="151.0" y="453.10" width="31.0" height="2.70" fill="#8c763e"/>
<rect x="151.0" y="455.80" width="31.0" height="2.70" fill="#a54b30"/>
<rect x="151.0" y="458.50" width="31.0" height="1.00" fill="#a37744"/>
<rect x="151.0" y="459.50" width="31.0" height="2.00" fill="#ab7c47"/>
<rect x="151.0" y="461.50" width="31.0" height="0.30" fill="#a87a46"/>
<rect x="151.0" y="461.80" width="31.0" height="1.50" fill="#a84c31"/>
<rect x="151.0" y="463.30" width="31.0" height="1.00" fill="#9b472d"/>
<rect x="151.0" y="464.30" width="31.0" height="0.90" fill="#ac4e32"/>
<rect x="151.0" y="465.20" width="31.0" height="2.10" fill="#8c763e"/>
<rect x="151.0" y="467.30" width="31.0" height="2.10" fill="#7d201e"/>
<rect x="151.0" y="469.40" width="31.0" height="2.00" fill="#d6252c"/>
<rect x="151.0" y="471.40" width="31.0" height="1.50" fill="#cc2429"/>
<rect x="151.0" y="472.90" width="31.0" height="1.50" fill="#ce242a"/>
<rect x="151.0" y="474.40" width="31.0" height="1.00" fill="#d6252c"/>
<rect x="151.0" y="475.40" width="31.0" height="2.00" fill="#c42228"/>
<rect x="151.0" y="477.40" width="31.0" height="1.50" fill="#cd242a"/>
<rect x="151.0" y="478.90" width="31.0" height="3.00" fill="#c42228"/>
<rect x="151.0" y="481.90" width="31.0" height="1.50" fill="#d0242a"/>
<rect x="151.0" y="483.40" width="31.0" height="2.00" fill="#c72328"/>
<rect x="151.0" y="485.40" width="31.0" height="0.10" fill="#d1242a"/>
<rect x="151.0" y="485.50" width="31.0" height="2.70" fill="#ac7d48"/>
<rect x="151.0" y="488.20" width="31.0" height="3.00" fill="#ca2329"/>
<rect x="151.0" y="491.20" width="31.0" height="3.00" fill="#c72328"/>
<rect x="151.0" y="494.20" width="31.0" height="2.00" fill="#d2252b"/>
<rect x="151.0" y="496.20" width="31.0" height="1.00" fill="#c72328"/>
<rect x="151.0" y="497.20" width="31.0" height="1.50" fill="#c92329"/>
<rect x="151.0" y="498.70" width="31.0" height="1.50" fill="#c72328"/>
<rect x="151.0" y="500.20" width="31.0" height="1.50" fill="#c82329"/>
<rect x="151.0" y="501.70" width="31.0" height="2.00" fill="#c52228"/>
<rect x="151.0" y="503.70" width="31.0" height="3.00" fill="#cf242a"/>
<rect x="151.0" y="506.70" width="31.0" height="1.50" fill="#cd242a"/>
<rect x="151.0" y="508.20" width="31.0" height="1.00" fill="#d6252b"/>
<rect x="151.0" y="509.20" width="31.0" height="1.50" fill="#d6252b"/>
<rect x="151.0" y="510.70" width="31.0" height="1.00" fill="#c72328"/>
<rect x="151.0" y="511.70" width="31.0" height="1.50" fill="#cb2329"/>
<rect x="151.0" y="513.20" width="31.0" height="1.00" fill="#c62328"/>
<rect x="151.0" y="514.20" width="31.0" height="2.90" fill="#d5252b"/>
<rect x="151.0" y="517.10" width="31.0" height="2.70" fill="#a5a258"/>
<rect x="151.0" y="519.80" width="31.0" height="2.70" fill="#768a3e"/>
<rect x="151.0" y="522.50" width="31.0" height="2.70" fill="#19160f"/>
<rect x="151.0" y="525.20" width="31.0" height="2.70" fill="#504c2a"/>
<rect x="151.0" y="527.90" width="31.0" height="2.70" fill="#ac7d48"/>
<rect x="151.0" y="530.60" width="31.0" height="2.00" fill="#71ac49"/>
<rect x="151.0" y="532.60" width="31.0" height="1.00" fill="#74b04a"/>
<rect x="151.0" y="533.60" width="31.0" height="0.40" fill="#6ba345"/>
<rect x="151.0" y="534.00" width="31.0" height="2.00" fill="#8c763e"/>
<rect x="151.0" y="536.00" width="31.0" height="3.00" fill="#9c472d"/>
<rect x="182.0" y="294.00" width="31.0" height="3.00" fill="#87c452"/>
<rect x="182.0" y="297.00" width="31.0" height="2.00" fill="#82bc4f"/>
<rect x="182.0" y="299.00" width="31.0" height="1.00" fill="#7cb44b"/>
<rect x="182.0" y="300.00" width="31.0" height="2.00" fill="#7db54c"/>
<rect x="182.0" y="302.00" width="31.0" height="3.00" fill="#89c653"/>
<rect x="182.0" y="305.00" width="31.0" height="1.00" fill="#83be50"/>
<rect x="182.0" y="306.00" width="31.0" height="1.50" fill="#81bb4e"/>
<rect x="182.0" y="307.50" width="31.0" height="2.00" fill="#87c352"/>
<rect x="182.0" y="309.50" width="31.0" height="2.00" fill="#7db54c"/>
<rect x="182.0" y="311.50" width="31.0" height="2.70" fill="#768a3e"/>
<rect x="182.0" y="314.20" width="31.0" height="2.00" fill="#504c2a"/>
<rect x="182.0" y="316.20" width="31.0" height="3.00" fill="#7fb74d"/>
<rect x="182.0" y="319.20" width="31.0" height="3.00" fill="#7fb74d"/>
<rect x="182.0" y="322.20" width="31.0" height="2.00" fill="#86c251"/>
<rect x="182.0" y="324.20" width="31.0" height="3.00" fill="#7cb44b"/>
<rect x="182.0" y="327.20" width="31.0" height="3.00" fill="#7fb84d"/>
<rect x="182.0" y="330.20" width="31.0" height="0.80" fill="#7db44c"/>
<rect x="182.0" y="331.00" width="31.0" height="2.00" fill="#504c2a"/>
<rect x="182.0" y="333.00" width="31.0" height="2.00" fill="#a54b30"/>
<rect x="182.0" y="335.00" width="31.0" height="1.00" fill="#82bc4f"/>
<rect x="182.0" y="336.00" width="31.0" height="1.00" fill="#7fb84d"/>
<rect x="182.0" y="337.00" width="31.0" height="1.00" fill="#88c552"/>
<rect x="182.0" y="338.00" width="31.0" height="2.00" fill="#81ba4e"/>
<rect x="182.0" y="340.00" width="31.0" height="2.00" fill="#89c653"/>
<rect x="182.0" y="342.00" width="31.0" height="1.00" fill="#80b94d"/>
<rect x="182.0" y="343.00" width="31.0" height="2.00" fill="#88c553"/>
<rect x="182.0" y="345.00" width="31.0" height="2.00" fill="#7cb44b"/>
<rect x="182.0" y="347.00" width="31.0" height="1.00" fill="#7cb44b"/>
<rect x="182.0" y="348.00" width="31.0" height="1.50" fill="#7db64c"/>
<rect x="182.0" y="349.50" width="31.0" height="3.00" fill="#89c653"/>
<rect x="182.0" y="352.50" width="31.0" height="3.00" fill="#87c352"/>
<rect x="182.0" y="355.50" width="31.0" height="1.90" fill="#87c352"/>
<rect x="182.0" y="357.40" width="31.0" height="2.00" fill="#7d201e"/>
<rect x="182.0" y="359.40" width="31.0" height="1.50" fill="#d6252b"/>
<rect x="182.0" y="360.90" width="31.0" height="1.50" fill="#c32228"/>
<rect x="182.0" y="362.40" width="31.0" height="2.00" fill="#d4252b"/>
<rect x="182.0" y="364.40" width="31.0" height="1.50" fill="#cf242a"/>
<rect x="182.0" y="365.90" width="31.0" height="0.90" fill="#d4252b"/>
<rect x="182.0" y="366.80" width="31.0" height="2.00" fill="#693c24"/>
<rect x="182.0" y="368.80" width="31.0" height="2.70" fill="#8c763e"/>
<rect x="182.0" y="371.50" width="31.0" height="3.00" fill="#81ba4e"/>
<rect x="182.0" y="374.50" width="31.0" height="1.00" fill="#83bd4f"/>
<rect x="182.0" y="375.50" width="31.0" height="3.00" fill="#86c251"/>
<rect x="182.0" y="378.50" width="31.0" height="1.50" fill="#81bb4e"/>
<rect x="182.0" y="380.00" width="31.0" height="1.00" fill="#82bd4f"/>
<rect x="182.0" y="381.00" width="31.0" height="2.00" fill="#ac7d48"/>
<rect x="182.0" y="383.00" width="31.0" height="2.70" fill="#a54b30"/>
<rect x="182.0" y="385.70" width="31.0" height="2.70" fill="#768a3e"/>
<rect x="182.0" y="388.40" width="31.0" height="2.00" fill="#c62228"/>
<rect x="182.0" y="390.40" width="31.0" height="1.30" fill="#d5252b"/>
<rect x="182.0" y="391.70" width="31.0" height="2.00" fill="#768a3e"/>
<rect x="182.0" y="393.70" width="31.0" height="2.10" fill="#a54b30"/>
<rect x="182.0" y="395.80" width="31.0" height="1.00" fill="#c82329"/>
<rect x="182.0" y="396.80" width="31.0" height="1.00" fill="#c72328"/>
<rect x="182.0" y="397.80" width="31.0" height="3.00" fill="#cd242a"/>
<rect x="182.0" y="400.80" width="31.0" height="0.30" fill="#c62228"/>
<rect x="182.0" y="401.10" width="31.0" height="2.70" fill="#8c763e"/>
<rect x="182.0" y="403.80" width="31.0" height="2.70" fill="#ac7d48"/>
<rect x="182.0" y="406.50" width="31.0" height="2.00" fill="#84bf50"/>
<rect x="182.0" y="408.50" width="31.0" height="1.50" fill="#a5a258"/>
<rect x="182.0" y="410.00" width="31.0" height="1.50" fill="#86c251"/>
<rect x="182.0" y="411.50" width="31.0" height="1.00" fill="#86c251"/>
<rect x="182.0" y="412.50" width="31.0" height="1.50" fill="#80b94e"/>
<rect x="182.0" y="414.00" width="31.0" height="2.70" fill="#8c763e"/>
<rect x="182.0" y="416.70" width="31.0" height="2.10" fill="#a5a258"/>
<rect x="182.0" y="418.80" width="31.0" height="2.70" fill="#8c763e"/>
<rect x="182.0" y="421.50" width="31.0" height="2.00" fill="#81bb4e"/>
<rect x="182.0" y="423.50" width="31.0" height="1.30" fill="#7fb74d"/>
<rect x="182.0" y="424.80" width="31.0" height="2.70" fill="#70aa48"/>
<rect x="182.0" y="427.50" width="31.0" height="2.70" fill="#a5a258"/>
<rect x="182.0" y="430.20" width="31.0" height="1.50" fill="#6ba345"/>
<rect x="182.0" y="431.70" width="31.0" height="1.50" fill="#6ba245"/>
<rect x="182.0" y="433.20" width="31.0" height="1.50" fill="#6da546"/>
<rect x="182.0" y="434.70" width="31.0" height="0.20" fill="#6ca445"/>
<rect x="182.0" y="434.90" width="31.0" height="2.00" fill="#768a3e"/>
<rect x="182.0" y="436.90" width="31.0" height="2.40" fill="#84bf50"/>
<rect x="182.0" y="439.30" width="31.0" height="2.40" fill="#70aa48"/>
<rect x="182.0" y="441.70" width="31.0" height="1.30" fill="#768a3e"/>
<rect x="182.0" y="443.00" width="31.0" height="1.00" fill="#84bf50"/>
<rect x="182.0" y="444.00" width="31.0" height="2.00" fill="#84bf50"/>
<rect x="182.0" y="446.00" width="31.0" height="1.00" fill="#70aa48"/>
<rect x="182.0" y="447.00" width="31.0" height="1.00" fill="#768a3e"/>
<rect x="182.0" y="448.00" width="31.0" height="0.40" fill="#84bf50"/>
<rect x="182.0" y="448.40" width="31.0" height="1.30" fill="#768a3e"/>
<rect x="182.0" y="449.70" width="31.0" height="2.00" fill="#70aa48"/>
<rect x="182.0" y="451.70" width="31.0" height="1.60" fill="#768a3e"/>
<rect x="182.0" y="453.30" width="31.0" height="0.50" fill="#70aa48"/>
<rect x="182.0" y="453.80" width="31.0" height="2.00" fill="#c72328"/>
<rect x="182.0" y="455.80" width="31.0" height="1.00" fill="#c72328"/>
<rect x="182.0" y="456.80" width="31.0" height="1.50" fill="#d6252b"/>
<rect x="182.0" y="458.30" width="31.0" height="2.00" fill="#cd242a"/>
<rect x="182.0" y="460.30" width="31.0" height="1.50" fill="#cc2329"/>
<rect x="182.0" y="461.80" width="31.0" height="2.00" fill="#d3252b"/>
<rect x="182.0" y="463.80" width="31.0" height="1.00" fill="#c52228"/>
<rect x="182.0" y="464.80" width="31.0" height="2.00" fill="#c72328"/>
<rect x="182.0" y="466.80" width="31.0" height="2.00" fill="#ca2329"/>
<rect x="182.0" y="468.80" width="31.0" height="1.00" fill="#c72328"/>
<rect x="182.0" y="469.80" width="31.0" height="2.00" fill="#c32228"/>
<rect x="182.0" y="471.80" width="31.0" height="1.50" fill="#d3252b"/>
<rect x="182.0" y="473.30" width="31.0" height="2.00" fill="#cb2329"/>
<rect x="182.0" y="475.30" width="31.0" height="2.00" fill="#c62328"/>
<rect x="182.0" y="477.30" width="31.0" height="2.00" fill="#c42228"/>
<rect x="182.0" y="479.30" width="31.0" height="0.80" fill="#d3252b"/>
<rect x="182.0" y="480.10" width="31.0" height="2.70" fill="#ac7d48"/>
<rect x="182.0" y="482.80" width="31.0" height="2.00" fill="#cf242a"/>
<rect x="182.0" y="484.80" width="31.0" height="2.70" fill="#ac7d48"/>
<rect x="182.0" y="487.50" width="31.0" height="3.00" fill="#c42228"/>
<rect x="182.0" y="490.50" width="31.0" height="1.00" fill="#d3252b"/>
<rect x="182.0" y="491.50" width="31.0" height="1.50" fill="#d0242a"/>
<rect x="182.0" y="493.00" width="31.0" height="1.00" fill="#d0242a"/>
<rect x="182.0" y="494.00" width="31.0" height="3.00" fill="#d1242a"/>
<rect x="182.0" y="497.00" width="31.0" height="3.00" fill="#d7252c"/>
<rect x="182.0" y="500.00" width="31.0" height="2.00" fill="#cb2329"/>
<rect x="182.0" y="502.00" width="31.0" height="1.00" fill="#c92329"/>
<rect x="182.0" y="503.00" width="31.0" height="2.00" fill="#cb2329"/>
<rect x="182.0" y="505.00" width="31.0" height="1.00" fill="#d4252b"/>
<rect x="182.0" y="506.00" width="31.0" height="2.00" fill="#d0242a"/>
<rect x="182.0" y="508.00" width="31.0" height="3.00" fill="#d2242b"/>
<rect x="182.0" y="511.00" width="31.0" height="1.50" fill="#d6252b"/>
<rect x="182.0" y="512.50" width="31.0" height="3.00" fill="#d5252b"/>
<rect x="182.0" y="515.50" width="31.0" height="3.00" fill="#c52228"/>
<rect x="182.0" y="518.50" width="31.0" height="1.00" fill="#cb2329"/>
<rect x="182.0" y="519.50" width="31.0" height="2.00" fill="#cc2329"/>
<rect x="182.0" y="521.50" width="31.0" height="1.50" fill="#c52228"/>
<rect x="182.0" y="523.00" width="31.0" height="1.00" fill="#ce242a"/>
<rect x="182.0" y="524.00" width="31.0" height="3.00" fill="#c42228"/>
<rect x="182.0" y="527.00" width="31.0" height="2.00" fill="#d2242b"/>
<rect x="182.0" y="529.00" width="31.0" height="1.50" fill="#c62228"/>
<rect x="182.0" y="530.50" width="31.0" height="2.00" fill="#c62228"/>
<rect x="182.0" y="532.50" width="31.0" height="1.50" fill="#d6252b"/>
<rect x="182.0" y="534.00" width="31.0" height="1.00" fill="#cb2329"/>
<rect x="182.0" y="535.00" width="31.0" height="1.50" fill="#c92329"/>
<rect x="182.0" y="536.50" width="31.0" height="1.00" fill="#d7252c"/>
<rect x="182.0" y="537.50" width="31.0" height="1.50" fill="#c92329"/>
<rect x="213.0" y="294.00" width="31.0" height="3.00" fill="#b22a28"/>
<rect x="213.0" y="297.00" width="31.0" height="1.00" fill="#bd2c2a"/>
<rect x="213.0" y="298.00" width="31.0" height="2.00" fill="#7d201e"/>
<rect x="213.0" y="300.00" width="31.0" height="2.80" fill="#441e16"/>
<rect x="213.0" y="302.80" width="31.0" height="2.40" fill="#7d201e"/>
<rect x="213.0" y="305.20" width="31.0" height="1.60" fill="#441e16"/>
<rect x="213.0" y="306.80" width="31.0" height="1.50" fill="#d4252b"/>
<rect x="213.0" y="308.30" width="31.0" height="1.50" fill="#ce242a"/>
<rect x="213.0" y="309.80" width="31.0" height="1.00" fill="#cb2329"/>
<rect x="213.0" y="310.80" width="31.0" height="1.40" fill="#cb2329"/>
<rect x="213.0" y="312.20" width="31.0" height="1.00" fill="#411d15"/>
<rect x="213.0" y="313.20" width="31.0" height="1.50" fill="#401c15"/>
<rect x="213.0" y="314.70" width="31.0" height="1.00" fill="#441e16"/>
<rect x="213.0" y="315.70" width="31.0" height="0.50" fill="#411d15"/>
<rect x="213.0" y="316.20" width="31.0" height="2.80" fill="#a54b30"/>
<rect x="213.0" y="319.00" width="31.0" height="3.00" fill="#bb2c2a"/>
<rect x="213.0" y="322.00" width="31.0" height="2.00" fill="#bd2c2a"/>
<rect x="213.0" y="324.00" width="31.0" height="1.00" fill="#bc2c2a"/>
<rect x="213.0" y="325.00" width="31.0" height="2.70" fill="#441e16"/>
<rect x="213.0" y="327.70" width="31.0" height="2.70" fill="#a54b30"/>
<rect x="213.0" y="330.40" width="31.0" height="3.00" fill="#b82b29"/>
<rect x="213.0" y="333.40" width="31.0" height="0.30" fill="#b92b29"/>
<rect x="213.0" y="333.70" width="31.0" height="1.30" fill="#a54b30"/>
<rect x="213.0" y="335.00" width="31.0" height="1.00" fill="#504c2a"/>
<rect x="213.0" y="336.00" width="31.0" height="1.00" fill="#a54b30"/>
<rect x="213.0" y="337.00" width="31.0" height="1.40" fill="#504c2a"/>
<rect x="213.0" y="338.40" width="31.0" height="2.60" fill="#441e16"/>
<rect x="213.0" y="341.00" width="31.0" height="3.00" fill="#b92b29"/>
<rect x="213.0" y="344.00" width="31.0" height="1.00" fill="#bf2d2b"/>
<rect x="213.0" y="345.00" width="31.0" height="1.30" fill="#441e16"/>
<rect x="213.0" y="346.30" width="31.0" height="2.00" fill="#7d201e"/>
<rect x="213.0" y="348.30" width="31.0" height="1.70" fill="#441e16"/>
<rect x="213.0" y="350.00" width="31.0" height="2.70" fill="#693c24"/>
<rect x="213.0" y="352.70" width="31.0" height="2.70" fill="#ac7d48"/>
<rect x="213.0" y="355.40" width="31.0" height="2.70" fill="#504c2a"/>
<rect x="213.0" y="358.10" width="31.0" height="1.00" fill="#761e1c"/>
<rect x="213.0" y="359.10" width="31.0" height="2.00" fill="#7b1f1d"/>
<rect x="213.0" y="361.10" width="31.0" height="1.00" fill="#80211f"/>
<rect x="213.0" y="362.10" width="31.0" height="2.70" fill="#441e16"/>
<rect x="213.0" y="364.80" width="31.0" height="2.00" fill="#8c763e"/>
<rect x="213.0" y="366.80" width="31.0" height="2.70" fill="#441e16"/>
<rect x="213.0" y="369.50" width="31.0" height="2.70" fill="#504c2a"/>
<rect x="213.0" y="372.20" width="31.0" height="2.00" fill="#19160f"/>
<rect x="213.0" y="374.20" width="31.0" height="2.70" fill="#a54b30"/>
<rect x="213.0" y="376.90" width="31.0" height="2.70" fill="#768a3e"/>
<rect x="213.0" y="379.60" width="31.0" height="1.00" fill="#70aa48"/>
<rect x="213.0" y="380.60" width="31.0" height="1.30" fill="#768a3e"/>
<rect x="213.0" y="381.90" width="31.0" height="1.00" fill="#70aa48"/>
<rect x="213.0" y="382.90" width="31.0" height="0.10" fill="#768a3e"/>
<rect x="213.0" y="383.00" width="31.0" height="1.30" fill="#a54b30"/>
<rect x="213.0" y="384.30" width="31.0" height="1.00" fill="#c42228"/>
<rect x="213.0" y="385.30" width="31.0" height="3.00" fill="#d0242a"/>
<rect x="213.0" y="388.30" width="31.0" height="1.50" fill="#c32228"/>
<rect x="213.0" y="389.80" width="31.0" height="1.00" fill="#d7252c"/>
<rect x="213.0" y="390.80" width="31.0" height="1.00" fill="#c72328"/>
<rect x="213.0" y="391.80" width="31.0" height="2.60" fill="#c92329"/>
<rect x="213.0" y="394.40" width="31.0" height="2.00" fill="#7d201e"/>
<rect x="213.0" y="396.40" width="31.0" height="1.50" fill="#be2c2a"/>
<rect x="213.0" y="397.90" width="31.0" height="1.50" fill="#b22a28"/>
<rect x="213.0" y="399.40" width="31.0" height="0.40" fill="#bc2c2a"/>
<rect x="213.0" y="399.80" width="31.0" height="2.00" fill="#ac7d48"/>
<rect x="213.0" y="401.80" width="31.0" height="2.00" fill="#bc2c2a"/>
<rect x="213.0" y="403.80" width="31.0" height="2.70" fill="#768a3e"/>
<rect x="213.0" y="406.50" width="31.0" height="2.00" fill="#6ba245"/>
<rect x="213.0" y="408.50" width="31.0" height="2.00" fill="#73af4a"/>
<rect x="213.0" y="410.50" width="31.0" height="2.90" fill="#6ba245"/>
<rect x="213.0" y="413.40" width="31.0" height="2.70" fill="#84bf50"/>
<rect x="213.0" y="416.10" width="31.0" height="2.70" fill="#768a3e"/>
<rect x="213.0" y="418.80" width="31.0" height="2.00" fill="#768a3e"/>
<rect x="213.0" y="420.80" width="31.0" height="1.30" fill="#84bf50"/>
<rect x="213.0" y="422.10" width="31.0" height="1.40" fill="#70aa48"/>
<rect x="213.0" y="423.50" width="31.0" height="2.00" fill="#19160f"/>
<rect x="213.0" y="425.50" width="31.0" height="2.70" fill="#504c2a"/>
<rect x="213.0" y="428.20" width="31.0" height="2.40" fill="#768a3e"/>
<rect x="213.0" y="430.60" width="31.0" height="1.00" fill="#3a582a"/>
<rect x="213.0" y="431.60" width="31.0" height="1.50" fill="#663a23"/>
<rect x="213.0" y="433.10" width="31.0" height="1.00" fill="#653a23"/>
<rect x="213.0" y="434.10" width="31.0" height="0.80" fill="#643922"/>
<rect x="213.0" y="434.90" width="31.0" height="2.00" fill="#504c2a"/>
<rect x="213.0" y="436.90" width="31.0" height="2.00" fill="#a64c30"/>
<rect x="213.0" y="438.90" width="31.0" height="1.40" fill="#9e482e"/>
<rect x="213.0" y="440.30" width="31.0" height="2.70" fill="#ac7d48"/>
<rect x="213.0" y="443.00" width="31.0" height="2.70" fill="#a54b30"/>
<rect x="213.0" y="445.70" width="31.0" height="2.70" fill="#ac7d48"/>
<rect x="213.0" y="448.40" width="31.0" height="2.70" fill="#504c2a"/>
<rect x="213.0" y="451.10" width="31.0" height="2.70" fill="#8c763e"/>
<rect x="213.0" y="453.80" width="31.0" height="2.00" fill="#6ba245"/>
<rect x="213.0" y="455.80" width="31.0" height="1.00" fill="#70ab48"/>
<rect x="213.0" y="456.80" width="31.0" height="0.30" fill="#74b04b"/>
<rect x="213.0" y="457.10" width="31.0" height="3.00" fill="#83be50"/>
<rect x="213.0" y="460.10" width="31.0" height="1.00" fill="#7fb84d"/>
<rect x="213.0" y="461.10" width="31.0" height="0.70" fill="#86c251"/>
<rect x="213.0" y="461.80" width="31.0" height="2.70" fill="#3a582a"/>
<rect x="213.0" y="464.50" width="31.0" height="2.00" fill="#80b94d"/>
<rect x="213.0" y="466.50" width="31.0" height="2.00" fill="#84bf50"/>
<rect x="213.0" y="468.50" width="31.0" height="2.00" fill="#80ba4e"/>
<rect x="213.0" y="470.50" width="31.0" height="1.00" fill="#82bc4f"/>
<rect x="213.0" y="471.50" width="31.0" height="0.50" fill="#84bf50"/>
<rect x="213.0" y="472.00" width="31.0" height="1.40" fill="#768a3e"/>
<rect x="213.0" y="473.40" width="31.0" height="1.00" fill="#80b94e"/>
<rect x="213.0" y="474.40" width="31.0" height="2.00" fill="#80b94e"/>
<rect x="213.0" y="476.40" width="31.0" height="2.00" fill="#86c251"/>
<rect x="213.0" y="478.40" width="31.0" height="1.00" fill="#7fb84d"/>
<rect x="213.0" y="479.40" width="31.0" height="0.10" fill="#84bf50"/>
<rect x="213.0" y="479.50" width="31.0" height="2.70" fill="#504c2a"/>
<rect x="213.0" y="482.20" width="31.0" height="2.60" fill="#ac7d48"/>
<rect x="213.0" y="484.80" width="31.0" height="2.00" fill="#768a3e"/>
<rect x="213.0" y="486.80" width="31.0" height="0.70" fill="#70aa48"/>
<rect x="213.0" y="487.50" width="31.0" height="2.70" fill="#8c763e"/>
<rect x="213.0" y="490.20" width="31.0" height="2.70" fill="#3a582a"/>
<rect x="213.0" y="492.90" width="31.0" height="2.00" fill="#73af4a"/>
<rect x="213.0" y="494.90" width="31.0" height="1.40" fill="#6fa847"/>
<rect x="213.0" y="496.30" width="31.0" height="1.00" fill="#70aa48"/>
<rect x="213.0" y="497.30" width="31.0" height="1.00" fill="#768a3e"/>
<rect x="213.0" y="498.30" width="31.0" height="0.70" fill="#70aa48"/>
<rect x="213.0" y="499.00" width="31.0" height="2.00" fill="#385529"/>
<rect x="213.0" y="501.00" width="31.0" height="1.30" fill="#3a572a"/>
<rect x="213.0" y="502.30" width="31.0" height="3.00" fill="#84bf50"/>
<rect x="213.0" y="505.30" width="31.0" height="1.50" fill="#7fb74d"/>
<rect x="213.0" y="506.80" width="31.0" height="3.00" fill="#7eb74c"/>
<rect x="213.0" y="509.80" width="31.0" height="0.60" fill="#88c553"/>
<rect x="213.0" y="510.40" width="31.0" height="2.00" fill="#3a582a"/>
<rect x="213.0" y="512.40" width="31.0" height="1.50" fill="#71ac49"/>
<rect x="213.0" y="513.90" width="31.0" height="2.60" fill="#6aa144"/>
<rect x="213.0" y="516.50" width="31.0" height="2.70" fill="#ac7d48"/>
<rect x="213.0" y="519.20" width="31.0" height="1.50" fill="#1a170f"/>
<rect x="213.0" y="520.70" width="31.0" height="1.80" fill="#19160f"/>
<rect x="213.0" y="522.50" width="31.0" height="2.70" fill="#768a3e"/>
<rect x="213.0" y="525.20" width="31.0" height="2.00" fill="#74b04b"/>
<rect x="213.0" y="527.20" width="31.0" height="1.00" fill="#71ab48"/>
<rect x="213.0" y="528.20" width="31.0" height="1.10" fill="#70aa48"/>
<rect x="213.0" y="529.30" width="31.0" height="3.00" fill="#8c763e"/>
<rect x="213.0" y="532.30" width="31.0" height="0.30" fill="#87723c"/>
<rect x="213.0" y="532.60" width="31.0" height="2.70" fill="#a54b30"/>
<rect x="213.0" y="535.30" width="31.0" height="1.00" fill="#633922"/>
<rect x="213.0" y="536.30" width="31.0" height="1.00" fill="#673b23"/>
<rect x="213.0" y="537.30" width="31.0" height="1.50" fill="#643922"/>
<rect x="213.0" y="538.80" width="31.0" height="0.20" fill="#633822"/>
<rect x="244.0" y="294.00" width="30.5" height="1.50" fill="#411d15"/>
<rect x="244.0" y="295.50" width="30.5" height="1.50" fill="#431e16"/>
<rect x="244.0" y="297.00" width="30.5" height="2.40" fill="#7d201e"/>
<rect x="244.0" y="299.40" width="30.5" height="2.60" fill="#441e16"/>
<rect x="244.0" y="302.00" width="30.5" height="3.00" fill="#80211f"/>
<rect x="244.0" y="305.00" width="30.5" height="2.50" fill="#504c2a"/>
<rect x="244.0" y="307.50" width="30.5" height="1.50" fill="#ba2c2a"/>
<rect x="244.0" y="309.00" width="30.5" height="1.00" fill="#b62b29"/>
<rect x="244.0" y="310.00" width="30.5" height="0.80" fill="#c32e2c"/>
<rect x="244.0" y="310.80" width="30.5" height="3.00" fill="#514d2a"/>
<rect x="244.0" y="313.80" width="30.5" height="0.40" fill="#4e4a29"/>
<rect x="244.0" y="314.20" width="30.5" height="2.00" fill="#3a582a"/>
<rect x="244.0" y="316.20" width="30.5" height="1.00" fill="#504c2a"/>
<rect x="244.0" y="317.20" width="30.5" height="0.40" fill="#3a582a"/>
<rect x="244.0" y="317.60" width="30.5" height="2.70" fill="#a54b30"/>
<rect x="244.0" y="320.30" width="30.5" height="2.00" fill="#441e16"/>
<rect x="244.0" y="322.30" width="30.5" height="1.30" fill="#504c2a"/>
<rect x="244.0" y="323.60" width="30.5" height="1.00" fill="#3a582a"/>
<rect x="244.0" y="324.60" width="30.5" height="1.60" fill="#504c2a"/>
<rect x="244.0" y="326.20" width="30.5" height="1.30" fill="#3a582a"/>
<rect x="244.0" y="327.50" width="30.5" height="0.80" fill="#504c2a"/>
<rect x="244.0" y="328.30" width="30.5" height="2.10" fill="#a54b30"/>
<rect x="244.0" y="330.40" width="30.5" height="1.00" fill="#b72b29"/>
<rect x="244.0" y="331.40" width="30.5" height="2.00" fill="#be2c2a"/>
<rect x="244.0" y="333.40" width="30.5" height="1.60" fill="#bd2c2a"/>
<rect x="244.0" y="335.00" width="30.5" height="3.00" fill="#d1242a"/>
<rect x="244.0" y="338.00" width="30.5" height="2.00" fill="#c92329"/>
<rect x="244.0" y="340.00" width="30.5" height="0.50" fill="#c42228"/>
<rect x="244.0" y="340.50" width="30.5" height="2.50" fill="#19160f"/>
<rect x="244.0" y="343.00" width="30.5" height="1.00" fill="#4d4928"/>
<rect x="244.0" y="344.00" width="30.5" height="1.50" fill="#524e2b"/>
<rect x="244.0" y="345.50" width="30.5" height="1.50" fill="#534f2b"/>
<rect x="244.0" y="347.00" width="30.5" height="1.30" fill="#3a582a"/>
<rect x="244.0" y="348.30" width="30.5" height="1.70" fill="#504c2a"/>
<rect x="244.0" y="350.00" width="30.5" height="2.70" fill="#ac7d48"/>
<rect x="244.0" y="352.70" width="30.5" height="2.00" fill="#8c763e"/>
<rect x="244.0" y="354.70" width="30.5" height="1.30" fill="#907a40"/>
<rect x="244.0" y="356.00" width="30.5" height="3.00" fill="#683b24"/>
<rect x="244.0" y="359.00" width="30.5" height="0.40" fill="#6c3e25"/>
<rect x="244.0" y="359.40" width="30.5" height="2.70" fill="#504c2a"/>
<rect x="244.0" y="362.10" width="30.5" height="1.30" fill="#70aa48"/>
<rect x="244.0" y="363.40" width="30.5" height="2.10" fill="#3a582a"/>
<rect x="244.0" y="365.50" width="30.5" height="2.00" fill="#3b5a2b"/>
<rect x="244.0" y="367.50" width="30.5" height="1.30" fill="#3a582a"/>
<rect x="244.0" y="368.80" width="30.5" height="1.00" fill="#768a3e"/>
<rect x="244.0" y="369.80" width="30.5" height="1.50" fill="#71843b"/>
<rect x="244.0" y="371.30" width="30.5" height="0.90" fill="#70833b"/>
<rect x="244.0" y="372.20" width="30.5" height="1.50" fill="#6da646"/>
<rect x="244.0" y="373.70" width="30.5" height="1.50" fill="#71ac49"/>
<rect x="244.0" y="375.20" width="30.5" height="1.00" fill="#6aa144"/>
<rect x="244.0" y="376.20" width="30.5" height="1.00" fill="#71ac49"/>
<rect x="244.0" y="377.20" width="30.5" height="1.00" fill="#6aa144"/>
<rect x="244.0" y="378.20" width="30.5" height="0.10" fill="#6ca345"/>
<rect x="244.0" y="378.30" width="30.5" height="2.00" fill="#768a3e"/>
<rect x="244.0" y="380.30" width="30.5" height="1.00" fill="#70aa48"/>
<rect x="244.0" y="381.30" width="30.5" height="1.00" fill="#768a3e"/>
<rect x="244.0" y="382.30" width="30.5" height="2.70" fill="#8c763e"/>
<rect x="244.0" y="385.00" width="30.5" height="1.50" fill="#9e482e"/>
<rect x="244.0" y="386.50" width="30.5" height="1.00" fill="#9c472d"/>
<rect x="244.0" y="387.50" width="30.5" height="0.90" fill="#a94d31"/>
<rect x="244.0" y="388.40" width="30.5" height="2.00" fill="#cc2429"/>
<rect x="244.0" y="390.40" width="30.5" height="1.50" fill="#c52228"/>
<rect x="244.0" y="391.90" width="30.5" height="1.50" fill="#c92329"/>
<rect x="244.0" y="393.40" width="30.5" height="2.00" fill="#cb2329"/>
<rect x="244.0" y="395.40" width="30.5" height="1.00" fill="#ca2329"/>
<rect x="244.0" y="396.40" width="30.5" height="2.00" fill="#c42228"/>
<rect x="244.0" y="398.40" width="30.5" height="2.00" fill="#d5252b"/>
<rect x="244.0" y="400.40" width="30.5" height="0.70" fill="#d4252b"/>
<rect x="244.0" y="401.10" width="30.5" height="2.70" fill="#a54b30"/>
<rect x="244.0" y="403.80" width="30.5" height="2.70" fill="#ac7d48"/>
<rect x="244.0" y="406.50" width="30.5" height="2.00" fill="#84bf50"/>
<rect x="244.0" y="408.50" width="30.5" height="1.00" fill="#70aa48"/>
<rect x="244.0" y="409.50" width="30.5" height="1.20" fill="#84bf50"/>
<rect x="244.0" y="410.70" width="30.5" height="1.00" fill="#6da646"/>
<rect x="244.0" y="411.70" width="30.5" height="1.00" fill="#6fa948"/>
<rect x="244.0" y="412.70" width="30.5" height="1.40" fill="#71ac49"/>
<rect x="244.0" y="414.10" width="30.5" height="1.00" fill="#8c763e"/>
<rect x="244.0" y="415.10" width="30.5" height="2.00" fill="#86713b"/>
<rect x="244.0" y="417.10" width="30.5" height="0.30" fill="#8b753e"/>
<rect x="244.0" y="417.40" width="30.5" height="2.70" fill="#a5a258"/>
<rect x="244.0" y="420.10" width="30.5" height="2.70" fill="#504c2a"/>
<rect x="244.0" y="422.80" width="30.5" height="2.00" fill="#70aa48"/>
<rect x="244.0" y="424.80" width="30.5" height="2.70" fill="#3a582a"/>
<rect x="244.0" y="427.50" width="30.5" height="2.00" fill="#72ad49"/>
<rect x="244.0" y="429.50" width="30.5" height="1.00" fill="#69a044"/>
<rect x="244.0" y="430.50" width="30.5" height="1.10" fill="#6aa144"/>
<rect x="244.0" y="431.60" width="30.5" height="1.50" fill="#b2824b"/>
<rect x="244.0" y="433.10" width="30.5" height="1.80" fill="#b2814b"/>
<rect x="244.0" y="434.90" width="30.5" height="2.00" fill="#a54b30"/>
<rect x="244.0" y="436.90" width="30.5" height="1.40" fill="#a0492e"/>
<rect x="244.0" y="438.30" width="30.5" height="1.30" fill="#768a3e"/>
<rect x="244.0" y="439.60" width="30.5" height="2.00" fill="#70aa48"/>
<rect x="244.0" y="441.60" width="30.5" height="2.70" fill="#ac7d48"/>
<rect x="244.0" y="444.30" width="30.5" height="1.50" fill="#6ba244"/>
<rect x="244.0" y="445.80" width="30.5" height="1.00" fill="#6fa847"/>
<rect x="244.0" y="446.80" width="30.5" height="1.00" fill="#70aa48"/>
<rect x="244.0" y="447.80" width="30.5" height="0.60" fill="#6aa144"/>
<rect x="244.0" y="448.40" width="30.5" height="2.00" fill="#504c2a"/>
<rect x="244.0" y="450.40" width="30.5" height="3.00" fill="#73af4a"/>
<rect x="244.0" y="453.40" width="30.5" height="1.00" fill="#6ea747"/>
<rect x="244.0" y="454.40" width="30.5" height="1.00" fill="#81bb4e"/>
<rect x="244.0" y="455.40" width="30.5" height="2.00" fill="#80b94d"/>
<rect x="244.0" y="457.40" width="30.5" height="1.50" fill="#81bb4e"/>
<rect x="244.0" y="458.90" width="30.5" height="1.50" fill="#89c653"/>
<rect x="244.0" y="460.40" width="30.5" height="1.40" fill="#83be4f"/>
<rect x="244.0" y="461.80" width="30.5" height="2.70" fill="#3a582a"/>
<rect x="244.0" y="464.50" width="30.5" height="1.60" fill="#19160f"/>
<rect x="244.0" y="466.10" width="30.5" height="1.90" fill="#3a582a"/>
<rect x="244.0" y="468.00" width="30.5" height="2.00" fill="#19160f"/>
<rect x="244.0" y="470.00" width="30.5" height="2.00" fill="#a5a258"/>
<rect x="244.0" y="472.00" width="30.5" height="2.00" fill="#19160f"/>
<rect x="244.0" y="474.00" width="30.5" height="2.10" fill="#19160f"/>
<rect x="244.0" y="476.10" width="30.5" height="2.00" fill="#504c2a"/>
<rect x="244.0" y="478.10" width="30.5" height="2.70" fill="#70aa48"/>
<rect x="244.0" y="480.80" width="30.5" height="2.70" fill="#504c2a"/>
<rect x="244.0" y="483.50" width="30.5" height="2.00" fill="#9e482e"/>
<rect x="244.0" y="485.50" width="30.5" height="2.00" fill="#a64c30"/>
<rect x="244.0" y="487.50" width="30.5" height="2.00" fill="#8c763e"/>
<rect x="244.0" y="489.50" width="30.5" height="1.40" fill="#88733c"/>
<rect x="244.0" y="490.90" width="30.5" height="1.50" fill="#4f4b2a"/>
<rect x="244.0" y="492.40" width="30.5" height="1.90" fill="#4e4a29"/>
<rect x="244.0" y="494.30" width="30.5" height="2.00" fill="#768a3e"/>
<rect x="244.0" y="496.30" width="30.5" height="1.30" fill="#504c2a"/>
<rect x="244.0" y="497.60" width="30.5" height="1.30" fill="#19160f"/>
<rect x="244.0" y="498.90" width="30.5" height="1.60" fill="#504c2a"/>
<rect x="244.0" y="500.50" width="30.5" height="0.50" fill="#19160f"/>
<rect x="244.0" y="501.00" width="30.5" height="2.00" fill="#504c2a"/>
<rect x="244.0" y="503.00" width="30.5" height="2.00" fill="#18150e"/>
<rect x="244.0" y="505.00" width="30.5" height="2.00" fill="#1a1710"/>
<rect x="244.0" y="507.00" width="30.5" height="2.00" fill="#1a1710"/>
<rect x="244.0" y="509.00" width="30.5" height="0.70" fill="#18150e"/>
<rect x="244.0" y="509.70" width="30.5" height="2.70" fill="#3a582a"/>
<rect x="244.0" y="512.40" width="30.5" height="2.10" fill="#ac7d48"/>
<rect x="244.0" y="514.50" width="30.5" height="2.60" fill="#693c24"/>
<rect x="244.0" y="517.10" width="30.5" height="2.70" fill="#a54b30"/>
<rect x="244.0" y="519.80" width="30.5" height="2.70" fill="#8c763e"/>
<rect x="244.0" y="522.50" width="30.5" height="1.00" fill="#6ba345"/>
<rect x="244.0" y="523.50" width="30.5" height="1.50" fill="#74b14b"/>
<rect x="244.0" y="525.00" width="30.5" height="1.60" fill="#71ac49"/>
<rect x="244.0" y="526.60" width="30.5" height="2.70" fill="#768a3e"/>
<rect x="244.0" y="529.30" width="30.5" height="3.00" fill="#a0492e"/>
<rect x="244.0" y="532.30" width="30.5" height="0.30" fill="#a64b30"/>
<rect x="244.0" y="532.60" width="30.5" height="2.70" fill="#ac7d48"/>
<rect x="244.0" y="535.30" width="30.5" height="1.00" fill="#a0492e"/>
<rect x="244.0" y="536.30" width="30.5" height="2.70" fill="#a34a2f"/>
<rect x="274.5" y="294.00" width="30.5" height="1.00" fill="#81bb4e"/>
<rect x="274.5" y="295.00" width="30.5" height="3.00" fill="#85c151"/>
<rect x="274.5" y="298.00" width="30.5" height="2.00" fill="#82bc4f"/>
<rect x="274.5" y="300.00" width="30.5" height="1.50" fill="#7fb84d"/>
<rect x="274.5" y="301.50" width="30.5" height="3.00" fill="#7cb44b"/>
<rect x="274.5" y="304.50" width="30.5" height="1.50" fill="#88c552"/>
<rect x="274.5" y="306.00" width="30.5" height="3.00" fill="#85c151"/>
<rect x="274.5" y="309.00" width="30.5" height="1.50" fill="#87c452"/>
<rect x="274.5" y="310.50" width="30.5" height="1.90" fill="#70aa48"/>
<rect x="274.5" y="312.40" width="30.5" height="1.50" fill="#85c151"/>
<rect x="274.5" y="313.90" width="30.5" height="1.00" fill="#82bc4f"/>
<rect x="274.5" y="314.90" width="30.5" height="1.70" fill="#80b94d"/>
<rect x="274.5" y="316.60" width="30.5" height="1.20" fill="#3a582a"/>
<rect x="274.5" y="317.80" width="30.5" height="1.00" fill="#88c552"/>
<rect x="274.5" y="318.80" width="30.5" height="1.50" fill="#86c251"/>
<rect x="274.5" y="320.30" width="30.5" height="1.50" fill="#7fb84d"/>
<rect x="274.5" y="321.80" width="30.5" height="2.50" fill="#82bd4f"/>
<rect x="274.5" y="324.30" width="30.5" height="1.50" fill="#70aa48"/>
<rect x="274.5" y="325.80" width="30.5" height="1.00" fill="#84bf50"/>
<rect x="274.5" y="326.80" width="30.5" height="3.00" fill="#83bd4f"/>
<rect x="274.5" y="329.80" width="30.5" height="1.50" fill="#88c552"/>
<rect x="274.5" y="331.30" width="30.5" height="1.50" fill="#86c251"/>
<rect x="274.5" y="332.80" width="30.5" height="2.30" fill="#504c2a"/>
<rect x="274.5" y="335.10" width="30.5" height="2.30" fill="#8c763e"/>
<rect x="274.5" y="337.40" width="30.5" height="1.50" fill="#768a3e"/>
<rect x="274.5" y="338.90" width="30.5" height="3.00" fill="#87c352"/>
<rect x="274.5" y="341.90" width="30.5" height="0.10" fill="#7db44c"/>
<rect x="274.5" y="342.00" width="30.5" height="2.30" fill="#70aa48"/>
<rect x="274.5" y="344.30" width="30.5" height="1.50" fill="#7eb74c"/>
<rect x="274.5" y="345.80" width="30.5" height="1.50" fill="#83bd4f"/>
<rect x="274.5" y="347.30" width="30.5" height="1.00" fill="#87c452"/>
<rect x="274.5" y="348.30" width="30.5" height="3.00" fill="#83be50"/>
<rect x="274.5" y="351.30" width="30.5" height="1.40" fill="#83bd4f"/>
<rect x="274.5" y="352.70" width="30.5" height="1.10" fill="#ac7d48"/>
<rect x="274.5" y="353.80" width="30.5" height="2.00" fill="#bb2c2a"/>
<rect x="274.5" y="355.80" width="30.5" height="2.30" fill="#bf2d2b"/>
<rect x="274.5" y="358.10" width="30.5" height="1.90" fill="#ac7d48"/>
<rect x="274.5" y="360.00" width="30.5" height="3.00" fill="#6ca345"/>
<rect x="274.5" y="363.00" width="30.5" height="1.50" fill="#6ea647"/>
<rect x="274.5" y="364.50" width="30.5" height="0.50" fill="#71ac49"/>
<rect x="274.5" y="365.00" width="30.5" height="1.20" fill="#768a3e"/>
<rect x="274.5" y="366.20" width="30.5" height="2.00" fill="#bd2c2a"/>
<rect x="274.5" y="368.20" width="30.5" height="2.00" fill="#b62b29"/>
<rect x="274.5" y="370.20" width="30.5" height="1.00" fill="#b22a28"/>
<rect x="274.5" y="371.20" width="30.5" height="1.10" fill="#768a3e"/>
<rect x="274.5" y="372.30" width="30.5" height="1.00" fill="#82bc4f"/>
<rect x="274.5" y="373.30" width="30.5" height="3.00" fill="#84c050"/>
<rect x="274.5" y="376.30" width="30.5" height="0.20" fill="#84bf50"/>
<rect x="274.5" y="376.50" width="30.5" height="2.70" fill="#504c2a"/>
<rect x="274.5" y="379.20" width="30.5" height="1.30" fill="#ac7d48"/>
<rect x="274.5" y="380.50" width="30.5" height="1.60" fill="#a54b30"/>
<rect x="274.5" y="382.10" width="30.5" height="1.00" fill="#ac7d48"/>
<rect x="274.5" y="383.10" width="30.5" height="1.10" fill="#768a3e"/>
<rect x="274.5" y="384.20" width="30.5" height="2.70" fill="#84bf50"/>
<rect x="274.5" y="386.90" width="30.5" height="1.60" fill="#768a3e"/>
<rect x="274.5" y="388.50" width="30.5" height="2.00" fill="#70aa48"/>
<rect x="274.5" y="390.50" width="30.5" height="2.00" fill="#768a3e"/>
<rect x="274.5" y="392.50" width="30.5" height="0.60" fill="#70aa48"/>
<rect x="274.5" y="393.10" width="30.5" height="1.50" fill="#ac7d48"/>
<rect x="274.5" y="394.60" width="30.5" height="1.60" fill="#a54b30"/>
<rect x="274.5" y="396.20" width="30.5" height="1.50" fill="#504c2a"/>
<rect x="274.5" y="397.70" width="30.5" height="2.70" fill="#768a3e"/>
<rect x="274.5" y="400.40" width="30.5" height="1.50" fill="#6ba245"/>
<rect x="274.5" y="401.90" width="30.5" height="1.00" fill="#72ae4a"/>
<rect x="274.5" y="402.90" width="30.5" height="0.90" fill="#6fa847"/>
<rect x="274.5" y="403.80" width="30.5" height="2.40" fill="#504c2a"/>
<rect x="274.5" y="406.20" width="30.5" height="1.50" fill="#a94d31"/>
<rect x="274.5" y="407.70" width="30.5" height="1.50" fill="#a1492f"/>
<rect x="274.5" y="409.20" width="30.5" height="3.00" fill="#a34a2f"/>
<rect x="274.5" y="412.20" width="30.5" height="1.20" fill="#a84c31"/>
<rect x="274.5" y="413.40" width="30.5" height="2.00" fill="#768a3e"/>
<rect x="274.5" y="415.40" width="30.5" height="1.50" fill="#d3252b"/>
<rect x="274.5" y="416.90" width="30.5" height="1.90" fill="#ca2329"/>
<rect x="274.5" y="418.80" width="30.5" height="2.70" fill="#7d201e"/>
<rect x="274.5" y="421.50" width="30.5" height="2.70" fill="#a54b30"/>
<rect x="274.5" y="424.20" width="30.5" height="2.60" fill="#ac7d48"/>
<rect x="274.5" y="426.80" width="30.5" height="2.70" fill="#8c763e"/>
<rect x="274.5" y="429.50" width="30.5" height="2.10" fill="#768a3e"/>
<rect x="274.5" y="431.60" width="30.5" height="2.60" fill="#ac7d48"/>
<rect x="274.5" y="434.20" width="30.5" height="1.50" fill="#6ca446"/>
<rect x="274.5" y="435.70" width="30.5" height="1.90" fill="#71ab49"/>
<rect x="274.5" y="437.60" width="30.5" height="2.70" fill="#a54b30"/>
<rect x="274.5" y="440.30" width="30.5" height="2.00" fill="#cf242a"/>
<rect x="274.5" y="442.30" width="30.5" height="3.00" fill="#71ab49"/>
<rect x="274.5" y="445.30" width="30.5" height="1.10" fill="#69a044"/>
<rect x="274.5" y="446.40" width="30.5" height="2.00" fill="#768a3e"/>
<rect x="274.5" y="448.40" width="30.5" height="2.70" fill="#84bf50"/>
<rect x="274.5" y="451.10" width="30.5" height="1.60" fill="#768a3e"/>
<rect x="274.5" y="452.70" width="30.5" height="1.10" fill="#70aa48"/>
<rect x="274.5" y="453.80" width="30.5" height="2.00" fill="#ac7d48"/>
<rect x="274.5" y="455.80" width="30.5" height="2.00" fill="#c92329"/>
<rect x="274.5" y="457.80" width="30.5" height="3.00" fill="#cb2329"/>
<rect x="274.5" y="460.80" width="30.5" height="1.00" fill="#d0242a"/>
<rect x="274.5" y="461.80" width="30.5" height="2.00" fill="#c62228"/>
<rect x="274.5" y="463.80" width="30.5" height="2.00" fill="#d4252b"/>
<rect x="274.5" y="465.80" width="30.5" height="1.00" fill="#c42228"/>
<rect x="274.5" y="466.80" width="30.5" height="2.00" fill="#d3252b"/>
<rect x="274.5" y="468.80" width="30.5" height="1.50" fill="#ce242a"/>
<rect x="274.5" y="470.30" width="30.5" height="2.00" fill="#d0242a"/>
<rect x="274.5" y="472.30" width="30.5" height="1.00" fill="#d0242a"/>
<rect x="274.5" y="473.30" width="30.5" height="1.50" fill="#d6252b"/>
<rect x="274.5" y="474.80" width="30.5" height="2.00" fill="#c82329"/>
<rect x="274.5" y="476.80" width="30.5" height="1.00" fill="#cf242a"/>
<rect x="274.5" y="477.80" width="30.5" height="1.50" fill="#c62328"/>
<rect x="274.5" y="479.30" width="30.5" height="3.00" fill="#ca2329"/>
<rect x="274.5" y="482.30" width="30.5" height="1.50" fill="#c72328"/>
<rect x="274.5" y="483.80" width="30.5" height="3.00" fill="#d3252b"/>
<rect x="274.5" y="486.80" width="30.5" height="1.50" fill="#cf242a"/>
<rect x="274.5" y="488.30" width="30.5" height="1.00" fill="#d0242a"/>
<rect x="274.5" y="489.30" width="30.5" height="1.60" fill="#c72328"/>
<rect x="274.5" y="490.90" width="30.5" height="2.00" fill="#a54b30"/>
<rect x="274.5" y="492.90" width="30.5" height="1.50" fill="#ce242a"/>
<rect x="274.5" y="494.40" width="30.5" height="3.00" fill="#d0242a"/>
<rect x="274.5" y="497.40" width="30.5" height="1.00" fill="#ce242a"/>
<rect x="274.5" y="498.40" width="30.5" height="2.00" fill="#cb2329"/>
<rect x="274.5" y="500.40" width="30.5" height="1.50" fill="#cc2429"/>
<rect x="274.5" y="501.90" width="30.5" height="1.00" fill="#cd242a"/>
<rect x="274.5" y="502.90" width="30.5" height="1.50" fill="#d1242a"/>
<rect x="274.5" y="504.40" width="30.5" height="1.50" fill="#cd242a"/>
<rect x="274.5" y="505.90" width="30.5" height="1.00" fill="#c62228"/>
<rect x="274.5" y="506.90" width="30.5" height="2.00" fill="#cc2429"/>
<rect x="274.5" y="508.90" width="30.5" height="3.00" fill="#d0242a"/>
<rect x="274.5" y="511.90" width="30.5" height="2.60" fill="#ca2329"/>
<rect x="274.5" y="514.50" width="30.5" height="2.00" fill="#a54b30"/>
<rect x="274.5" y="516.50" width="30.5" height="2.70" fill="#693c24"/>
<rect x="274.5" y="519.20" width="30.5" height="2.00" fill="#a5a258"/>
<rect x="274.5" y="521.20" width="30.5" height="3.00" fill="#c42e2c"/>
<rect x="274.5" y="524.20" width="30.5" height="1.00" fill="#b42a28"/>
<rect x="274.5" y="525.20" width="30.5" height="2.70" fill="#a54b30"/>
<rect x="274.5" y="527.90" width="30.5" height="2.70" fill="#7d201e"/>
<rect x="274.5" y="530.60" width="30.5" height="2.70" fill="#ac7d48"/>
<rect x="274.5" y="533.30" width="30.5" height="2.00" fill="#d0242a"/>
<rect x="274.5" y="535.30" width="30.5" height="1.00" fill="#c32228"/>
<rect x="274.5" y="536.30" width="30.5" height="1.00" fill="#d1242a"/>
<rect x="274.5" y="537.30" width="30.5" height="1.70" fill="#d3252b"/>
<rect x="305.0" y="294.00" width="30.0" height="1.00" fill="#7c201e"/>
<rect x="305.0" y="295.00" width="30.0" height="2.40" fill="#7f211e"/>
<rect x="305.0" y="297.40" width="30.0" height="2.60" fill="#441e16"/>
<rect x="305.0" y="300.00" width="30.0" height="2.80" fill="#bc2c2a"/>
<rect x="305.0" y="302.80" width="30.0" height="2.70" fill="#7d201e"/>
<rect x="305.0" y="305.50" width="30.0" height="1.00" fill="#bc2c2a"/>
<rect x="305.0" y="306.50" width="30.0" height="1.30" fill="#7d201e"/>
<rect x="305.0" y="307.80" width="30.0" height="1.00" fill="#bc2c2a"/>
<rect x="305.0" y="308.80" width="30.0" height="1.50" fill="#421d15"/>
<rect x="305.0" y="310.30" width="30.0" height="1.90" fill="#421d15"/>
<rect x="305.0" y="312.20" width="30.0" height="1.60" fill="#7d201e"/>
<rect x="305.0" y="313.80" width="30.0" height="1.80" fill="#441e16"/>
<rect x="305.0" y="315.60" width="30.0" height="2.00" fill="#441e16"/>
<rect x="305.0" y="317.60" width="30.0" height="1.60" fill="#504c2a"/>
<rect x="305.0" y="319.20" width="30.0" height="1.10" fill="#441e16"/>
<rect x="305.0" y="320.30" width="30.0" height="1.00" fill="#d4252b"/>
<rect x="305.0" y="321.30" width="30.0" height="2.00" fill="#ca2329"/>
<rect x="305.0" y="323.30" width="30.0" height="3.00" fill="#cb2329"/>
<rect x="305.0" y="326.30" width="30.0" height="2.00" fill="#7d201e"/>
<rect x="305.0" y="328.30" width="30.0" height="2.40" fill="#bc2c2a"/>
<rect x="305.0" y="330.70" width="30.0" height="1.60" fill="#a54b30"/>
<rect x="305.0" y="332.30" width="30.0" height="0.10" fill="#bc2c2a"/>
<rect x="305.0" y="332.40" width="30.0" height="2.40" fill="#8c763e"/>
<rect x="305.0" y="334.80" width="30.0" height="1.60" fill="#a5a258"/>
<rect x="305.0" y="336.40" width="30.0" height="2.00" fill="#19160f"/>
<rect x="305.0" y="338.40" width="30.0" height="2.10" fill="#7d201e"/>
<rect x="305.0" y="340.50" width="30.0" height="3.00" fill="#d3252b"/>
<rect x="305.0" y="343.50" width="30.0" height="2.00" fill="#c72328"/>
<rect x="305.0" y="345.50" width="30.0" height="2.00" fill="#c52228"/>
<rect x="305.0" y="347.50" width="30.0" height="1.00" fill="#d3252b"/>
<rect x="305.0" y="348.50" width="30.0" height="1.00" fill="#cb2329"/>
<rect x="305.0" y="349.50" width="30.0" height="3.00" fill="#ce242a"/>
<rect x="305.0" y="352.50" width="30.0" height="0.90" fill="#cb2329"/>
<rect x="305.0" y="353.40" width="30.0" height="2.60" fill="#693c24"/>
<rect x="305.0" y="356.00" width="30.0" height="2.70" fill="#441e16"/>
<rect x="305.0" y="358.70" width="30.0" height="1.00" fill="#3a582a"/>
<rect x="305.0" y="359.70" width="30.0" height="1.00" fill="#504c2a"/>
<rect x="305.0" y="360.70" width="30.0" height="1.30" fill="#3a582a"/>
<rect x="305.0" y="362.00" width="30.0" height="1.50" fill="#504c2a"/>
<rect x="305.0" y="363.50" width="30.0" height="2.00" fill="#3a582a"/>
<rect x="305.0" y="365.50" width="30.0" height="2.70" fill="#a5a258"/>
<rect x="305.0" y="368.20" width="30.0" height="2.00" fill="#3a582a"/>
<rect x="305.0" y="370.20" width="30.0" height="2.70" fill="#ac7d48"/>
<rect x="305.0" y="372.90" width="30.0" height="1.00" fill="#7f211f"/>
<rect x="305.0" y="373.90" width="30.0" height="3.00" fill="#7d201e"/>
<rect x="305.0" y="376.90" width="30.0" height="2.00" fill="#a54b30"/>
<rect x="305.0" y="378.90" width="30.0" height="2.70" fill="#bc2c2a"/>
<rect x="305.0" y="381.60" width="30.0" height="2.00" fill="#a5a258"/>
<rect x="305.0" y="383.60" width="30.0" height="1.00" fill="#9f482e"/>
<rect x="305.0" y="384.60" width="30.0" height="2.40" fill="#a54b30"/>
<rect x="305.0" y="387.00" width="30.0" height="2.70" fill="#693c24"/>
<rect x="305.0" y="389.70" width="30.0" height="2.00" fill="#7d201e"/>
<rect x="305.0" y="391.70" width="30.0" height="2.00" fill="#768a3e"/>
<rect x="305.0" y="393.70" width="30.0" height="2.10" fill="#a5a258"/>
<rect x="305.0" y="395.80" width="30.0" height="2.70" fill="#8c763e"/>
<rect x="305.0" y="398.50" width="30.0" height="2.60" fill="#a54b30"/>
<rect x="305.0" y="401.10" width="30.0" height="1.50" fill="#b32a28"/>
<rect x="305.0" y="402.60" width="30.0" height="1.50" fill="#c12d2b"/>
<rect x="305.0" y="404.10" width="30.0" height="1.10" fill="#bf2d2b"/>
<rect x="305.0" y="405.20" width="30.0" height="1.00" fill="#a1492f"/>
<rect x="305.0" y="406.20" width="30.0" height="1.50" fill="#a84c31"/>
<rect x="305.0" y="407.70" width="30.0" height="2.00" fill="#a94d31"/>
<rect x="305.0" y="409.70" width="30.0" height="0.30" fill="#a24a2f"/>
<rect x="305.0" y="410.00" width="30.0" height="2.70" fill="#bc2c2a"/>
<rect x="305.0" y="412.70" width="30.0" height="2.00" fill="#c32228"/>
<rect x="305.0" y="414.70" width="30.0" height="1.00" fill="#cd242a"/>
<rect x="305.0" y="415.70" width="30.0" height="1.00" fill="#d4252b"/>
<rect x="305.0" y="416.70" width="30.0" height="3.00" fill="#ce242a"/>
<rect x="305.0" y="419.70" width="30.0" height="3.00" fill="#cc2329"/>
<rect x="305.0" y="422.70" width="30.0" height="1.00" fill="#d1242a"/>
<rect x="305.0" y="423.70" width="30.0" height="1.50" fill="#cc2429"/>
<rect x="305.0" y="425.20" width="30.0" height="3.00" fill="#ce242a"/>
<rect x="305.0" y="428.20" width="30.0" height="1.00" fill="#d0242a"/>
<rect x="305.0" y="429.20" width="30.0" height="1.50" fill="#d5252b"/>
<rect x="305.0" y="430.70" width="30.0" height="1.00" fill="#cb2329"/>
<rect x="305.0" y="431.70" width="30.0" height="1.00" fill="#d1242a"/>
<rect x="305.0" y="432.70" width="30.0" height="1.00" fill="#d7252c"/>
<rect x="305.0" y="433.70" width="30.0" height="1.00" fill="#c72328"/>
<rect x="305.0" y="434.70" width="30.0" height="0.20" fill="#c52228"/>
<rect x="305.0" y="434.90" width="30.0" height="2.00" fill="#a54b30"/>
<rect x="305.0" y="436.90" width="30.0" height="2.70" fill="#ac7d48"/>
<rect x="305.0" y="439.60" width="30.0" height="2.70" fill="#a54b30"/>
<rect x="305.0" y="442.30" width="30.0" height="2.70" fill="#8c763e"/>
<rect x="305.0" y="445.00" width="30.0" height="2.70" fill="#a54b30"/>
<rect x="305.0" y="447.70" width="30.0" height="1.00" fill="#c82329"/>
<rect x="305.0" y="448.70" width="30.0" height="1.50" fill="#cc2329"/>
<rect x="305.0" y="450.20" width="30.0" height="1.50" fill="#d6252b"/>
<rect x="305.0" y="451.70" width="30.0" height="2.00" fill="#d3252b"/>
<rect x="305.0" y="453.70" width="30.0" height="0.70" fill="#d2242b"/>
<rect x="305.0" y="454.40" width="30.0" height="1.40" fill="#ac7d48"/>
<rect x="305.0" y="455.80" width="30.0" height="1.00" fill="#80b94e"/>
<rect x="305.0" y="456.80" width="30.0" height="3.00" fill="#82bc4f"/>
<rect x="305.0" y="459.80" width="30.0" height="2.00" fill="#88c553"/>
<rect x="305.0" y="461.80" width="30.0" height="1.00" fill="#86c151"/>
<rect x="305.0" y="462.80" width="30.0" height="1.00" fill="#7db54c"/>
<rect x="305.0" y="463.80" width="30.0" height="1.00" fill="#81bb4e"/>
<rect x="305.0" y="464.80" width="30.0" height="2.00" fill="#86c151"/>
<rect x="305.0" y="466.80" width="30.0" height="1.50" fill="#89c653"/>
<rect x="305.0" y="468.30" width="30.0" height="3.00" fill="#84bf50"/>
<rect x="305.0" y="471.30" width="30.0" height="2.00" fill="#81bb4e"/>
<rect x="305.0" y="473.30" width="30.0" height="3.00" fill="#82bd4f"/>
<rect x="305.0" y="476.30" width="30.0" height="1.50" fill="#7eb64c"/>
<rect x="305.0" y="477.80" width="30.0" height="1.00" fill="#81ba4e"/>
<rect x="305.0" y="478.80" width="30.0" height="1.50" fill="#84c050"/>
<rect x="305.0" y="480.30" width="30.0" height="0.50" fill="#82bd4f"/>
<rect x="305.0" y="480.80" width="30.0" height="2.00" fill="#ac7d48"/>
<rect x="305.0" y="482.80" width="30.0" height="3.00" fill="#ab4e32"/>
<rect x="305.0" y="485.80" width="30.0" height="0.40" fill="#a0492f"/>
<rect x="305.0" y="486.20" width="30.0" height="2.00" fill="#ac7d48"/>
<rect x="305.0" y="488.20" width="30.0" height="2.70" fill="#768a3e"/>
<rect x="305.0" y="490.90" width="30.0" height="1.00" fill="#84bf50"/>
<rect x="305.0" y="491.90" width="30.0" height="2.00" fill="#88c452"/>
<rect x="305.0" y="493.90" width="30.0" height="1.00" fill="#87c352"/>
<rect x="305.0" y="494.90" width="30.0" height="2.00" fill="#84bf50"/>
<rect x="305.0" y="496.90" width="30.0" height="1.50" fill="#81bb4e"/>
<rect x="305.0" y="498.40" width="30.0" height="3.00" fill="#84bf50"/>
<rect x="305.0" y="501.40" width="30.0" height="1.50" fill="#87c352"/>
<rect x="305.0" y="502.90" width="30.0" height="2.00" fill="#85c151"/>
<rect x="305.0" y="504.90" width="30.0" height="2.00" fill="#80b94d"/>
<rect x="305.0" y="506.90" width="30.0" height="3.00" fill="#7eb74c"/>
<rect x="305.0" y="509.90" width="30.0" height="1.00" fill="#80b94e"/>
<rect x="305.0" y="510.90" width="30.0" height="0.90" fill="#87c352"/>
<rect x="305.0" y="511.80" width="30.0" height="1.50" fill="#6ca446"/>
<rect x="305.0" y="513.30" width="30.0" height="3.00" fill="#6da646"/>
<rect x="305.0" y="516.30" width="30.0" height="0.80" fill="#6fa948"/>
<rect x="305.0" y="517.10" width="30.0" height="3.00" fill="#3b5a2b"/>
<rect x="305.0" y="520.10" width="30.0" height="1.10" fill="#3b5a2b"/>
<rect x="305.0" y="521.20" width="30.0" height="1.50" fill="#80b94e"/>
<rect x="305.0" y="522.70" width="30.0" height="1.00" fill="#85c051"/>
<rect x="305.0" y="523.70" width="30.0" height="3.00" fill="#85c151"/>
<rect x="305.0" y="526.70" width="30.0" height="2.00" fill="#84bf50"/>
<rect x="305.0" y="528.70" width="30.0" height="1.00" fill="#87c352"/>
<rect x="305.0" y="529.70" width="30.0" height="3.00" fill="#83be50"/>
<rect x="305.0" y="532.70" width="30.0" height="0.60" fill="#86c251"/>
<rect x="305.0" y="533.30" width="30.0" height="2.70" fill="#8c763e"/>
<rect x="305.0" y="536.00" width="30.0" height="1.50" fill="#6ea747"/>
<rect x="305.0" y="537.50" width="30.0" height="1.50" fill="#73af4a"/>
<rect x="335.0" y="294.00" width="30.0" height="2.00" fill="#7b201e"/>
<rect x="335.0" y="296.00" width="30.0" height="1.00" fill="#781f1d"/>
<rect x="335.0" y="297.00" width="30.0" height="1.50" fill="#b22a28"/>
<rect x="335.0" y="298.50" width="30.0" height="1.50" fill="#b82b29"/>
<rect x="335.0" y="300.00" width="30.0" height="2.80" fill="#441e16"/>
<rect x="335.0" y="302.80" width="30.0" height="2.70" fill="#7d201e"/>
<rect x="335.0" y="305.50" width="30.0" height="2.70" fill="#441e16"/>
<rect x="335.0" y="308.20" width="30.0" height="2.60" fill="#7d201e"/>
<rect x="335.0" y="310.80" width="30.0" height="2.70" fill="#504c2a"/>
<rect x="335.0" y="313.50" width="30.0" height="2.70" fill="#7d201e"/>
<rect x="335.0" y="316.20" width="30.0" height="2.00" fill="#504c2a"/>
<rect x="335.0" y="318.20" width="30.0" height="2.10" fill="#768a3e"/>
<rect x="335.0" y="320.30" width="30.0" height="1.30" fill="#7d201e"/>
<rect x="335.0" y="321.60" width="30.0" height="1.00" fill="#bc2c2a"/>
<rect x="335.0" y="322.60" width="30.0" height="1.70" fill="#441e16"/>
<rect x="335.0" y="324.30" width="30.0" height="2.70" fill="#bc2c2a"/>
<rect x="335.0" y="327.00" width="30.0" height="1.00" fill="#a54b30"/>
<rect x="335.0" y="328.00" width="30.0" height="1.60" fill="#504c2a"/>
<rect x="335.0" y="329.60" width="30.0" height="1.40" fill="#a54b30"/>
<rect x="335.0" y="331.00" width="30.0" height="2.70" fill="#768a3e"/>
<rect x="335.0" y="333.70" width="30.0" height="2.70" fill="#8c763e"/>
<rect x="335.0" y="336.40" width="30.0" height="2.70" fill="#441e16"/>
<rect x="335.0" y="339.10" width="30.0" height="1.00" fill="#c62228"/>
<rect x="335.0" y="340.10" width="30.0" height="1.00" fill="#ca2329"/>
<rect x="335.0" y="341.10" width="30.0" height="1.00" fill="#c52228"/>
<rect x="335.0" y="342.10" width="30.0" height="1.50" fill="#d7252c"/>
<rect x="335.0" y="343.60" width="30.0" height="3.00" fill="#cf242a"/>
<rect x="335.0" y="346.60" width="30.0" height="1.50" fill="#c82329"/>
<rect x="335.0" y="348.10" width="30.0" height="2.00" fill="#cb2329"/>
<rect x="335.0" y="350.10" width="30.0" height="3.00" fill="#d2252b"/>
<rect x="335.0" y="353.10" width="30.0" height="0.90" fill="#c82329"/>
<rect x="335.0" y="354.00" width="30.0" height="2.70" fill="#a54b30"/>
<rect x="335.0" y="356.70" width="30.0" height="2.70" fill="#3a582a"/>
<rect x="335.0" y="359.40" width="30.0" height="2.70" fill="#19160f"/>
<rect x="335.0" y="362.10" width="30.0" height="2.70" fill="#3a582a"/>
<rect x="335.0" y="364.80" width="30.0" height="1.00" fill="#a87a46"/>
<rect x="335.0" y="365.80" width="30.0" height="1.50" fill="#a87a46"/>
<rect x="335.0" y="367.30" width="30.0" height="1.00" fill="#a37644"/>
<rect x="335.0" y="368.30" width="30.0" height="0.50" fill="#b1804a"/>
<rect x="335.0" y="368.80" width="30.0" height="2.70" fill="#693c24"/>
<rect x="335.0" y="371.50" width="30.0" height="3.00" fill="#a34a2f"/>
<rect x="335.0" y="374.50" width="30.0" height="0.40" fill="#a94d31"/>
<rect x="335.0" y="374.90" width="30.0" height="2.00" fill="#ac7d48"/>
<rect x="335.0" y="376.90" width="30.0" height="1.00" fill="#a54b30"/>
<rect x="335.0" y="377.90" width="30.0" height="1.00" fill="#bc2c2a"/>
<rect x="335.0" y="378.90" width="30.0" height="1.60" fill="#a54b30"/>
<rect x="335.0" y="380.50" width="30.0" height="1.60" fill="#bc2c2a"/>
<rect x="335.0" y="382.10" width="30.0" height="0.20" fill="#a54b30"/>
<rect x="335.0" y="382.30" width="30.0" height="2.70" fill="#8c763e"/>
<rect x="335.0" y="385.00" width="30.0" height="2.70" fill="#768a3e"/>
<rect x="335.0" y="387.70" width="30.0" height="1.50" fill="#70ab48"/>
<rect x="335.0" y="389.20" width="30.0" height="2.50" fill="#6ba345"/>
<rect x="335.0" y="391.70" width="30.0" height="2.70" fill="#504c2a"/>
<rect x="335.0" y="394.40" width="30.0" height="2.70" fill="#ac7d48"/>
<rect x="335.0" y="397.10" width="30.0" height="1.50" fill="#a1492f"/>
<rect x="335.0" y="398.60" width="30.0" height="1.50" fill="#ab4e32"/>
<rect x="335.0" y="400.10" width="30.0" height="1.00" fill="#9e482e"/>
<rect x="335.0" y="401.10" width="30.0" height="2.00" fill="#d6252b"/>
<rect x="335.0" y="403.10" width="30.0" height="1.00" fill="#d5252b"/>
<rect x="335.0" y="404.10" width="30.0" height="1.00" fill="#d4252b"/>
<rect x="335.0" y="405.10" width="30.0" height="1.00" fill="#c82329"/>
<rect x="335.0" y="406.10" width="30.0" height="1.90" fill="#c42228"/>
<rect x="335.0" y="408.00" width="30.0" height="2.00" fill="#a54b30"/>
<rect x="335.0" y="410.00" width="30.0" height="1.50" fill="#c92329"/>
<rect x="335.0" y="411.50" width="30.0" height="1.00" fill="#d6252b"/>
<rect x="335.0" y="412.50" width="30.0" height="2.00" fill="#cf242a"/>
<rect x="335.0" y="414.50" width="30.0" height="3.00" fill="#d2252b"/>
<rect x="335.0" y="417.50" width="30.0" height="1.00" fill="#cc2429"/>
<rect x="335.0" y="418.50" width="30.0" height="2.00" fill="#c82329"/>
<rect x="335.0" y="420.50" width="30.0" height="1.00" fill="#ca2329"/>
<rect x="335.0" y="421.50" width="30.0" height="3.00" fill="#c62228"/>
<rect x="335.0" y="424.50" width="30.0" height="1.50" fill="#d3252b"/>
<rect x="335.0" y="426.00" width="30.0" height="1.00" fill="#cc2429"/>
<rect x="335.0" y="427.00" width="30.0" height="1.50" fill="#d3252b"/>
<rect x="335.0" y="428.50" width="30.0" height="1.50" fill="#d6252b"/>
<rect x="335.0" y="430.00" width="30.0" height="1.50" fill="#c42228"/>
<rect x="335.0" y="431.50" width="30.0" height="2.00" fill="#d5252b"/>
<rect x="335.0" y="433.50" width="30.0" height="1.50" fill="#d3252b"/>
<rect x="335.0" y="435.00" width="30.0" height="1.00" fill="#d6252b"/>
<rect x="335.0" y="436.00" width="30.0" height="0.90" fill="#d4252b"/>
<rect x="335.0" y="436.90" width="30.0" height="2.10" fill="#ac7d48"/>
<rect x="335.0" y="439.00" width="30.0" height="2.00" fill="#7d201e"/>
<rect x="335.0" y="441.00" width="30.0" height="1.00" fill="#a34a2f"/>
<rect x="335.0" y="442.00" width="30.0" height="2.00" fill="#a0492f"/>
<rect x="335.0" y="444.00" width="30.0" height="1.50" fill="#a34a2f"/>
<rect x="335.0" y="445.50" width="30.0" height="0.20" fill="#9d482e"/>
<rect x="335.0" y="445.70" width="30.0" height="2.70" fill="#7d201e"/>
<rect x="335.0" y="448.40" width="30.0" height="1.50" fill="#d2242b"/>
<rect x="335.0" y="449.90" width="30.0" height="1.50" fill="#d1242a"/>
<rect x="335.0" y="451.40" width="30.0" height="1.50" fill="#cc2329"/>
<rect x="335.0" y="452.90" width="30.0" height="1.50" fill="#c82329"/>
<rect x="335.0" y="454.40" width="30.0" height="2.10" fill="#a54b30"/>
<rect x="335.0" y="456.50" width="30.0" height="3.00" fill="#b52a29"/>
<rect x="335.0" y="459.50" width="30.0" height="1.00" fill="#b62b29"/>
<rect x="335.0" y="460.50" width="30.0" height="2.00" fill="#a54b30"/>
<rect x="335.0" y="462.50" width="30.0" height="2.00" fill="#768a3e"/>
<rect x="335.0" y="464.50" width="30.0" height="1.60" fill="#768a3e"/>
<rect x="335.0" y="466.10" width="30.0" height="1.30" fill="#70aa48"/>
<rect x="335.0" y="467.40" width="30.0" height="1.60" fill="#768a3e"/>
<rect x="335.0" y="469.00" width="30.0" height="0.40" fill="#70aa48"/>
<rect x="335.0" y="469.40" width="30.0" height="2.00" fill="#19160f"/>
<rect x="335.0" y="471.40" width="30.0" height="2.70" fill="#70aa48"/>
<rect x="335.0" y="474.10" width="30.0" height="2.00" fill="#504c2a"/>
<rect x="335.0" y="476.10" width="30.0" height="1.30" fill="#70aa48"/>
<rect x="335.0" y="477.40" width="30.0" height="2.70" fill="#19160f"/>
<rect x="335.0" y="480.10" width="30.0" height="1.00" fill="#a0492f"/>
<rect x="335.0" y="481.10" width="30.0" height="3.00" fill="#9d472e"/>
<rect x="335.0" y="484.10" width="30.0" height="1.00" fill="#a64b30"/>
<rect x="335.0" y="485.10" width="30.0" height="1.50" fill="#a44b30"/>
<rect x="335.0" y="486.60" width="30.0" height="1.60" fill="#9d472e"/>
<rect x="335.0" y="488.20" width="30.0" height="1.50" fill="#7a8f40"/>
<rect x="335.0" y="489.70" width="30.0" height="1.90" fill="#7b8f40"/>
<rect x="335.0" y="491.60" width="30.0" height="1.30" fill="#8c763e"/>
<rect x="335.0" y="492.90" width="30.0" height="2.00" fill="#19160f"/>
<rect x="335.0" y="494.90" width="30.0" height="2.10" fill="#768a3e"/>
<rect x="335.0" y="497.00" width="30.0" height="1.50" fill="#74b04a"/>
<rect x="335.0" y="498.50" width="30.0" height="1.00" fill="#6ea646"/>
<rect x="335.0" y="499.50" width="30.0" height="1.50" fill="#73af4a"/>
<rect x="335.0" y="501.00" width="30.0" height="1.60" fill="#84bf50"/>
<rect x="335.0" y="502.60" width="30.0" height="1.30" fill="#70aa48"/>
<rect x="335.0" y="503.90" width="30.0" height="1.00" fill="#84bf50"/>
<rect x="335.0" y="504.90" width="30.0" height="2.00" fill="#70aa48"/>
<rect x="335.0" y="506.90" width="30.0" height="0.80" fill="#84bf50"/>
<rect x="335.0" y="507.70" width="30.0" height="2.70" fill="#504c2a"/>
<rect x="335.0" y="510.40" width="30.0" height="2.00" fill="#70aa48"/>
<rect x="335.0" y="512.40" width="30.0" height="2.10" fill="#504c2a"/>
<rect x="335.0" y="514.50" width="30.0" height="2.00" fill="#6fa847"/>
<rect x="335.0" y="516.50" width="30.0" height="1.30" fill="#69a044"/>
<rect x="335.0" y="517.80" width="30.0" height="2.00" fill="#86713b"/>
<rect x="335.0" y="519.80" width="30.0" height="1.40" fill="#846f3b"/>
<rect x="335.0" y="521.20" width="30.0" height="3.00" fill="#6ca445"/>
<rect x="335.0" y="524.20" width="30.0" height="1.00" fill="#6ba245"/>
<rect x="335.0" y="525.20" width="30.0" height="2.70" fill="#3a582a"/>
<rect x="335.0" y="527.90" width="30.0" height="1.50" fill="#6fa947"/>
<rect x="335.0" y="529.40" width="30.0" height="1.50" fill="#71ac49"/>
<rect x="335.0" y="530.90" width="30.0" height="1.00" fill="#70aa48"/>
<rect x="335.0" y="531.90" width="30.0" height="1.00" fill="#6c3e25"/>
<rect x="335.0" y="532.90" width="30.0" height="2.40" fill="#6b3d25"/>
<rect x="335.0" y="535.30" width="30.0" height="1.30" fill="#768a3e"/>
<rect x="335.0" y="536.60" width="30.0" height="1.30" fill="#70aa48"/>
<rect x="335.0" y="537.90" width="30.0" height="1.10" fill="#768a3e"/>
</g>
<rect x="371.8" y="297.00" width="11.6" height="12.0" fill="#8fc652"/>
<text x="387.40" y="306.80" font-size="10.90" text-anchor="start" fill="#222" font-weight="normal" >-3.00</text>
<rect x="371.8" y="308.97" width="11.6" height="12.0" fill="#68b24e"/>
<text x="387.40" y="318.77" font-size="10.90" text-anchor="start" fill="#222" font-weight="normal" >-2.00</text>
<rect x="371.8" y="320.94" width="11.6" height="12.0" fill="#34582c"/>
<text x="387.40" y="330.74" font-size="10.90" text-anchor="start" fill="#222" font-weight="normal" >-1.00</text>
<rect x="371.8" y="332.91" width="11.6" height="12.0" fill="#0a0808"/>
<text x="388.20" y="342.71" font-size="10.90" text-anchor="start" fill="#222" font-weight="normal" >0.00</text>
<rect x="371.8" y="344.88" width="11.6" height="12.0" fill="#481414"/>
<text x="388.20" y="354.68" font-size="10.90" text-anchor="start" fill="#222" font-weight="normal" >1.00</text>
<rect x="371.8" y="356.85" width="11.6" height="12.0" fill="#a82028"/>
<text x="388.20" y="366.65" font-size="10.90" text-anchor="start" fill="#222" font-weight="normal" >2.00</text>
<rect x="371.8" y="368.82" width="11.6" height="12.0" fill="#de2028"/>
<text x="388.20" y="378.62" font-size="10.90" text-anchor="start" fill="#222" font-weight="normal" >3.00</text>
<text x="10.60" y="577.20" font-size="16.60" text-anchor="start" fill="#111" font-weight="bold" >B</text>
<line x1="79.40" y1="614.00" x2="79.40" y2="799.00" stroke="#f0f0f0" stroke-width="0.60" />
<line x1="102.30" y1="614.00" x2="102.30" y2="799.00" stroke="#f0f0f0" stroke-width="0.60" />
<line x1="125.20" y1="614.00" x2="125.20" y2="799.00" stroke="#f0f0f0" stroke-width="0.60" />
<line x1="148.10" y1="614.00" x2="148.10" y2="799.00" stroke="#f0f0f0" stroke-width="0.60" />
<line x1="171.00" y1="614.00" x2="171.00" y2="799.00" stroke="#f0f0f0" stroke-width="0.60" />
<line x1="193.90" y1="614.00" x2="193.90" y2="799.00" stroke="#f0f0f0" stroke-width="0.60" />
<line x1="216.80" y1="614.00" x2="216.80" y2="799.00" stroke="#f0f0f0" stroke-width="0.60" />
<line x1="239.70" y1="614.00" x2="239.70" y2="799.00" stroke="#f0f0f0" stroke-width="0.60" />
<text x="79.70" y="590.00" font-size="12.90" text-anchor="start" fill="#1a1a1a" font-weight="normal" textLength="154.70" lengthAdjust="spacingAndGlyphs" >Genes up-regulated in LSCs</text>
<text x="96.00" y="606.30" font-size="9.40" text-anchor="start" fill="#1a1a1a" font-weight="normal" textLength="122.10" lengthAdjust="spacingAndGlyphs" >Enrichment plot: UP IN LSCS</text>
<text transform="translate(30.00,691.40) rotate(-90)" font-size="9.40" text-anchor="start" fill="#222" font-weight="bold" textLength="66.00" lengthAdjust="spacingAndGlyphs">Enrichment score (ES)</text>
<text transform="translate(31.90,820.30) rotate(-90)" font-size="9.40" text-anchor="start" fill="#222" font-weight="bold" textLength="97.00" lengthAdjust="spacingAndGlyphs">Ranked list metric (Signal2Noise)</text>
<line x1="52.20" y1="617.50" x2="56.50" y2="617.50" stroke="#1c1c1c" stroke-width="1.60" />
<text x="47.50" y="619.70" font-size="6.30" text-anchor="end" fill="#222" font-weight="normal" letter-spacing="0.3">0.0</text>
<line x1="56.50" y1="617.50" x2="257.60" y2="617.50" stroke="#f0f0f0" stroke-width="0.60" />
<line x1="52.20" y1="631.00" x2="56.50" y2="631.00" stroke="#1c1c1c" stroke-width="1.60" />
<text x="47.50" y="633.20" font-size="6.30" text-anchor="end" fill="#222" font-weight="normal" letter-spacing="0.3">-0.1</text>
<line x1="56.50" y1="631.00" x2="257.60" y2="631.00" stroke="#f0f0f0" stroke-width="0.60" />
<line x1="52.20" y1="644.50" x2="56.50" y2="644.50" stroke="#1c1c1c" stroke-width="1.60" />
<text x="47.50" y="646.70" font-size="6.30" text-anchor="end" fill="#222" font-weight="normal" letter-spacing="0.3">-0.2</text>
<line x1="56.50" y1="644.50" x2="257.60" y2="644.50" stroke="#f0f0f0" stroke-width="0.60" />
<line x1="52.20" y1="658.00" x2="56.50" y2="658.00" stroke="#1c1c1c" stroke-width="1.60" />
<text x="47.50" y="660.20" font-size="6.30" text-anchor="end" fill="#222" font-weight="normal" letter-spacing="0.3">-0.3</text>
<line x1="56.50" y1="658.00" x2="257.60" y2="658.00" stroke="#f0f0f0" stroke-width="0.60" />
<line x1="52.20" y1="671.50" x2="56.50" y2="671.50" stroke="#1c1c1c" stroke-width="1.60" />
<text x="47.50" y="673.70" font-size="6.30" text-anchor="end" fill="#222" font-weight="normal" letter-spacing="0.3">-0.4</text>
<line x1="56.50" y1="671.50" x2="257.60" y2="671.50" stroke="#f0f0f0" stroke-width="0.60" />
<line x1="52.20" y1="685.00" x2="56.50" y2="685.00" stroke="#1c1c1c" stroke-width="1.60" />
<text x="47.50" y="687.20" font-size="6.30" text-anchor="end" fill="#222" font-weight="normal" letter-spacing="0.3">-0.5</text>
<line x1="56.50" y1="685.00" x2="257.60" y2="685.00" stroke="#f0f0f0" stroke-width="0.60" />
<line x1="52.20" y1="698.50" x2="56.50" y2="698.50" stroke="#1c1c1c" stroke-width="1.60" />
<text x="47.50" y="700.70" font-size="6.30" text-anchor="end" fill="#222" font-weight="normal" letter-spacing="0.3">-0.6</text>
<line x1="56.50" y1="698.50" x2="257.60" y2="698.50" stroke="#f0f0f0" stroke-width="0.60" />
<line x1="56.50" y1="617.50" x2="257.60" y2="617.50" stroke="#b8b8b8" stroke-width="0.90" />
<line x1="56.50" y1="701.80" x2="257.60" y2="701.80" stroke="#c4c4c4" stroke-width="0.90" />
<line x1="52.20" y1="742.40" x2="56.50" y2="742.40" stroke="#1c1c1c" stroke-width="1.60" />
<text x="47.50" y="744.60" font-size="6.30" text-anchor="end" fill="#222" font-weight="normal" letter-spacing="0.3">5.0</text>
<line x1="52.20" y1="756.30" x2="56.50" y2="756.30" stroke="#1c1c1c" stroke-width="1.60" />
<text x="47.50" y="758.50" font-size="6.30" text-anchor="end" fill="#222" font-weight="normal" letter-spacing="0.3">2.5</text>
<line x1="52.20" y1="770.30" x2="56.50" y2="770.30" stroke="#1c1c1c" stroke-width="1.60" />
<text x="47.50" y="772.50" font-size="6.30" text-anchor="end" fill="#222" font-weight="normal" letter-spacing="0.3">0.0</text>
<line x1="52.20" y1="784.30" x2="56.50" y2="784.30" stroke="#1c1c1c" stroke-width="1.60" />
<text x="47.50" y="786.50" font-size="6.30" text-anchor="end" fill="#222" font-weight="normal" letter-spacing="0.3">-2.5</text>
<line x1="52.20" y1="798.30" x2="56.50" y2="798.30" stroke="#1c1c1c" stroke-width="1.60" />
<text x="47.50" y="800.50" font-size="6.30" text-anchor="end" fill="#222" font-weight="normal" letter-spacing="0.3">-5.0</text>
<line x1="56.50" y1="799.80" x2="56.50" y2="804.60" stroke="#1c1c1c" stroke-width="1.60" />
<text x="56.50" y="815.00" font-size="6.50" text-anchor="middle" fill="#2a2a2a" font-weight="normal" letter-spacing="0.25">0</text>
<line x1="79.40" y1="799.80" x2="79.40" y2="804.60" stroke="#1c1c1c" stroke-width="1.60" />
<text x="79.40" y="815.00" font-size="6.50" text-anchor="middle" fill="#2a2a2a" font-weight="normal" letter-spacing="0.25">2,500</text>
<line x1="102.30" y1="799.80" x2="102.30" y2="804.60" stroke="#1c1c1c" stroke-width="1.60" />
<text x="102.30" y="815.00" font-size="6.50" text-anchor="middle" fill="#2a2a2a" font-weight="normal" letter-spacing="0.25">5,000</text>
<line x1="125.20" y1="799.80" x2="125.20" y2="804.60" stroke="#1c1c1c" stroke-width="1.60" />
<text x="125.20" y="815.00" font-size="6.50" text-anchor="middle" fill="#2a2a2a" font-weight="normal" letter-spacing="0.25">7,500</text>
<line x1="148.10" y1="799.80" x2="148.10" y2="804.60" stroke="#1c1c1c" stroke-width="1.60" />
<text x="148.10" y="815.00" font-size="6.50" text-anchor="middle" fill="#2a2a2a" font-weight="normal" letter-spacing="0.25">10,000</text>
<line x1="171.00" y1="799.80" x2="171.00" y2="804.60" stroke="#1c1c1c" stroke-width="1.60" />
<text x="171.00" y="815.00" font-size="6.50" text-anchor="middle" fill="#2a2a2a" font-weight="normal" letter-spacing="0.25">12,500</text>
<line x1="193.90" y1="799.80" x2="193.90" y2="804.60" stroke="#1c1c1c" stroke-width="1.60" />
<text x="193.90" y="815.00" font-size="6.50" text-anchor="middle" fill="#2a2a2a" font-weight="normal" letter-spacing="0.25">15,000</text>
<line x1="216.80" y1="799.80" x2="216.80" y2="804.60" stroke="#1c1c1c" stroke-width="1.60" />
<text x="216.80" y="815.00" font-size="6.50" text-anchor="middle" fill="#2a2a2a" font-weight="normal" letter-spacing="0.25">17,500</text>
<line x1="239.70" y1="799.80" x2="239.70" y2="804.60" stroke="#1c1c1c" stroke-width="1.60" />
<text x="239.70" y="815.00" font-size="6.50" text-anchor="middle" fill="#2a2a2a" font-weight="normal" letter-spacing="0.25">20,000</text>
<text x="121.80" y="829.00" font-size="9.60" text-anchor="start" fill="#1a1a1a" font-weight="bold" textLength="70.50" lengthAdjust="spacingAndGlyphs" >Rank in ordered dataset</text>
<rect x="65.88" y="703.6" width="1.25" height="28.4" fill="#888"/>
<rect x="68.17" y="703.6" width="1.25" height="28.4" fill="#888"/>
<rect x="70.67" y="703.6" width="1.25" height="28.4" fill="#888"/>
<rect x="74.28" y="703.6" width="1.25" height="28.4" fill="#888"/>
<rect x="78.97" y="703.6" width="1.25" height="28.4" fill="#888"/>
<rect x="98.58" y="703.6" width="1.25" height="28.4" fill="#888"/>
<rect x="101.17" y="703.6" width="1.25" height="28.4" fill="#888"/>
<rect x="115.97" y="703.6" width="1.25" height="28.4" fill="#888"/>
<rect x="138.38" y="703.6" width="1.25" height="28.4" fill="#888"/>
<rect x="159.78" y="703.6" width="1.25" height="28.4" fill="#888"/>
<rect x="162.68" y="703.6" width="1.25" height="28.4" fill="#888"/>
<rect x="197.47" y="703.6" width="1.25" height="28.4" fill="#777"/>
<rect x="199.47" y="703.6" width="1.25" height="28.4" fill="#777"/>
<rect x="204.18" y="703.6" width="1.25" height="28.4" fill="#777"/>
<rect x="210.88" y="703.6" width="1.25" height="28.4" fill="#777"/>
<rect x="216.27" y="703.6" width="1.85" height="28.4" fill="#333"/>
<rect x="220.97" y="703.6" width="1.25" height="28.4" fill="#777"/>
<rect x="225.07" y="703.6" width="1.25" height="28.4" fill="#777"/>
<rect x="229.62" y="703.6" width="1.55" height="28.4" fill="#111"/>
<rect x="231.97" y="703.6" width="2.05" height="28.4" fill="#888"/>
<rect x="237.18" y="703.6" width="1.25" height="28.4" fill="#777"/>
<rect x="241.57" y="703.6" width="1.25" height="28.4" fill="#555"/>
<rect x="242.97" y="703.6" width="1.25" height="28.4" fill="#777"/>
<rect x="246.57" y="703.6" width="1.25" height="28.4" fill="#777"/>
<rect x="57.00" y="732.4" width="23.00" height="7.2" fill="#cc4352"/>
<rect x="80.00" y="732.4" width="11.00" height="7.2" fill="#d25c6d"/>
<rect x="91.00" y="732.4" width="16.00" height="7.2" fill="#d97586"/>
<rect x="107.00" y="732.4" width="18.00" height="7.2" fill="#e6b9d4"/>
<rect x="125.00" y="732.4" width="33.00" height="7.2" fill="#d9cfe6"/>
<rect x="158.00" y="732.4" width="19.00" height="7.2" fill="#c4bbe2"/>
<rect x="177.00" y="732.4" width="18.00" height="7.2" fill="#7a6fbd"/>
<rect x="195.00" y="732.4" width="37.00" height="7.2" fill="#5a4cab"/>
<rect x="232.00" y="732.4" width="16.50" height="7.2" fill="#3c2b97"/>
<line x1="124.80" y1="740.00" x2="124.80" y2="799.00" stroke="#c8c8c8" stroke-width="0.70" stroke-dasharray="1.5,1.5"/>
<polygon points="57.10,770.30 57.10,757.46 57.60,757.77 58.10,758.07 58.60,758.36 59.10,758.64 59.60,758.92 60.10,759.19 60.60,759.46 61.10,759.72 61.60,759.97 62.10,760.22 62.60,760.46 63.10,760.70 63.60,760.93 64.10,761.15 64.60,761.37 65.10,761.59 65.60,761.80 66.10,762.00 66.60,762.20 67.10,762.40 67.60,762.59 68.10,762.78 68.60,762.96 69.10,763.14 69.60,763.31 70.10,763.48 70.60,763.65 71.10,763.81 71.60,763.97 72.10,764.13 72.60,764.28 73.10,764.43 73.60,764.57 74.10,764.71 74.60,764.85 75.10,764.98 75.60,765.12 76.10,765.25 76.60,765.37 77.10,765.49 77.60,765.61 78.10,765.73 78.60,765.85 79.10,765.96 79.60,766.07 80.10,766.18 80.60,766.28 81.10,766.38 81.60,766.48 82.10,766.58 82.60,766.68 83.10,766.77 83.60,766.86 84.10,766.95 84.60,767.04 85.10,767.12 85.60,767.21 86.10,767.29 86.60,767.37 87.10,767.44 87.60,767.52 88.10,767.59 88.60,767.67 89.10,767.74 89.60,767.81 90.10,767.88 90.60,767.94 91.10,768.01 91.60,768.07 92.10,768.13 92.60,768.19 93.10,768.25 93.60,768.31 94.10,768.37 94.60,768.42 95.10,768.48 95.60,768.53 96.10,768.58 96.60,768.63 97.10,768.68 97.60,768.73 98.10,768.78 98.60,768.83 99.10,768.87 99.60,768.92 100.10,768.96 100.60,769.00 101.10,769.04 101.60,769.09 102.10,769.13 102.60,769.16 103.10,769.20 103.60,769.24 104.10,769.28 104.60,769.31 105.10,769.35 105.60,769.38 106.10,769.42 106.60,769.45 107.10,769.48 107.60,769.51 108.10,769.54 108.60,769.57 109.10,769.60 109.60,769.63 110.10,769.66 110.60,769.69 111.10,769.72 111.60,769.74 112.10,769.77 112.60,769.80 113.10,769.82 113.60,769.85 114.10,769.87 114.60,769.89 115.10,769.92 115.60,769.94 116.10,769.96 116.60,769.98 117.10,770.00 117.60,770.03 118.10,770.05 118.60,770.07 119.10,770.09 119.60,770.11 120.10,770.12 120.60,770.14 121.10,770.16 121.60,770.18 122.10,770.20 122.60,770.21 123.10,770.23 123.60,770.25 124.10,770.27 124.60,770.28 125.10,770.31 125.60,770.34 126.10,770.37 126.60,770.40 127.10,770.43 127.60,770.46 128.10,770.49 128.60,770.52 129.10,770.55 129.60,770.58 130.10,770.61 130.60,770.64 131.10,770.67 131.60,770.70 132.10,770.73 132.60,770.76 133.10,770.79 133.60,770.82 134.10,770.85 134.60,770.88 135.10,770.91 135.60,770.94 136.10,770.97 136.60,771.00 137.10,771.03 137.60,771.06 138.10,771.09 138.60,771.12 139.10,771.15 139.60,771.18 140.10,771.21 140.60,771.24 141.10,771.27 141.60,771.30 142.10,771.33 142.60,771.36 143.10,771.39 143.60,771.42 144.10,771.45 144.60,771.48 145.10,771.51 145.60,771.54 146.10,771.57 146.60,771.60 147.10,771.63 147.60,771.66 148.10,771.69 148.60,771.72 149.10,771.75 149.60,771.78 150.10,771.81 150.60,771.84 151.10,771.87 151.60,771.90 152.10,771.93 152.60,771.96 153.10,771.99 153.60,772.02 154.10,772.05 154.60,772.08 155.10,772.11 155.60,772.14 156.10,772.17 156.60,772.20 157.10,772.23 157.60,772.26 158.10,772.29 158.60,772.32 159.10,772.35 159.60,772.38 160.10,772.41 160.60,772.44 161.10,772.47 161.60,772.50 162.10,772.53 162.60,772.56 163.10,772.59 163.60,772.62 164.10,772.65 164.60,772.68 165.10,772.71 165.60,772.75 166.10,772.78 166.60,772.81 167.10,772.84 167.60,772.87 168.10,772.90 168.60,772.93 169.10,772.96 169.60,772.99 170.10,773.02 170.60,773.05 171.10,773.08 171.60,773.11 172.10,773.14 172.60,773.17 173.10,773.20 173.60,773.23 174.10,773.26 174.60,773.29 175.10,773.33 175.60,773.36 176.10,773.39 176.60,773.42 177.10,773.45 177.60,773.48 178.10,773.51 178.60,773.54 179.10,773.57 179.60,773.60 180.10,773.63 180.60,773.67 181.10,773.70 181.60,773.73 182.10,773.76 182.60,773.79 183.10,773.82 183.60,773.85 184.10,773.88 184.60,773.92 185.10,773.95 185.60,773.98 186.10,774.01 186.60,774.04 187.10,774.07 187.60,774.11 188.10,774.14 188.60,774.17 189.10,774.20 189.60,774.23 190.10,774.27 190.60,774.30 191.10,774.33 191.60,774.36 192.10,774.40 192.60,774.43 193.10,774.46 193.60,774.50 194.10,774.53 194.60,774.56 195.10,774.60 195.60,774.63 196.10,774.66 196.60,774.70 197.10,774.73 197.60,774.76 198.10,774.80 198.60,774.83 199.10,774.87 199.60,774.90 200.10,774.94 200.60,774.97 201.10,775.01 201.60,775.04 202.10,775.08 202.60,775.12 203.10,775.15 203.60,775.19 204.10,775.23 204.60,775.26 205.10,775.30 205.60,775.34 206.10,775.38 206.60,775.41 207.10,775.45 207.60,775.49 208.10,775.53 208.60,775.57 209.10,775.61 209.60,775.65 210.10,775.69 210.60,775.73 211.10,775.77 211.60,775.82 212.10,775.86 212.60,775.90 213.10,775.94 213.60,775.99 214.10,776.03 214.60,776.08 215.10,776.12 215.60,776.17 216.10,776.22 216.60,776.26 217.10,776.31 217.60,776.36 218.10,776.41 218.60,776.46 219.10,776.51 219.60,776.57 220.10,776.62 220.60,776.67 221.10,776.73 221.60,776.78 222.10,776.84 222.60,776.90 223.10,776.96 223.60,777.02 224.10,777.08 224.60,777.14 225.10,777.21 225.60,777.27 226.10,777.34 226.60,777.41 227.10,777.48 227.60,777.55 228.10,777.62 228.60,777.70 229.10,777.77 229.60,777.85 230.10,777.93 230.60,778.01 231.10,778.10 231.60,778.18 232.10,778.27 232.60,778.36 233.10,778.45 233.60,778.55 234.10,778.65 234.60,778.75 235.10,778.85 235.60,778.96 236.10,779.07 236.60,779.18 237.10,779.30 237.60,779.41 238.10,779.54 238.60,779.66 239.10,779.79 239.60,779.93 240.10,780.06 240.60,780.21 241.10,780.35 241.60,780.50 242.10,780.66 242.60,780.82 243.10,780.99 243.60,781.16 244.10,781.33 244.60,781.52 245.10,781.70 245.60,781.90 246.10,782.10 246.60,782.31 247.10,782.52 247.60,782.75 248.10,782.97 248.60,783.21 249.10,783.46 249.10,770.30" fill="#c9c9c9"/>
<text x="107.00" y="772.00" font-size="4.60" text-anchor="start" fill="#222" font-weight="bold" textLength="35.50" lengthAdjust="spacingAndGlyphs" >Zero cross at 7461</text>
<text x="59.10" y="744.90" font-size="4.80" text-anchor="start" fill="#8a2c3c" font-weight="normal" textLength="59.50" lengthAdjust="spacingAndGlyphs" >'CELL' (positively correlated)</text>
<text x="60.00" y="757.80" font-size="17.00" text-anchor="start" fill="#a8182a" font-weight="normal" textLength="23.80" lengthAdjust="spacingAndGlyphs" >cell</text>
<text x="158.00" y="797.30" font-size="4.80" text-anchor="start" fill="#33306e" font-weight="normal" textLength="62.00" lengthAdjust="spacingAndGlyphs" >'AML' (negatively correlated)</text>
<text x="223.10" y="796.00" font-size="16.30" text-anchor="start" fill="#262068" font-weight="normal" textLength="32.60" lengthAdjust="spacingAndGlyphs" >AML</text>
<polyline points="57.40,617.40 66.10,624.10 67.50,622.10 68.80,623.00 70.80,620.10 72.20,621.40 74.20,618.30 75.50,619.70 77.10,617.80 78.90,620.10 80.20,619.20 97.10,631.50 100.40,632.60 124.00,649.00 140.00,658.70 160.00,672.00 165.00,674.00 190.00,692.10 197.40,698.20 200.80,692.80 202.80,694.10 204.80,693.40 206.80,695.50 208.80,694.50 210.90,696.10 212.90,695.20 215.80,697.50 217.60,690.80 218.90,686.00 220.30,687.40 222.30,685.40 224.30,686.70 226.30,684.00 229.70,686.00 231.00,674.60 232.40,663.80 233.10,661.10 234.40,655.10 235.80,653.70 237.10,655.10 239.10,651.70 241.80,653.10 242.50,646.30 243.20,642.30 244.50,631.50 245.90,630.20 246.50,624.80 247.20,623.50 248.10,616.70" fill="none" stroke="#d6ebab" stroke-width="3.6" stroke-linejoin="round" opacity="0.8"/>
<polyline points="57.40,617.40 66.10,624.10 67.50,622.10 68.80,623.00 70.80,620.10 72.20,621.40 74.20,618.30 75.50,619.70 77.10,617.80 78.90,620.10 80.20,619.20 97.10,631.50 100.40,632.60 124.00,649.00 140.00,658.70 160.00,672.00 165.00,674.00 190.00,692.10 197.40,698.20 200.80,692.80 202.80,694.10 204.80,693.40 206.80,695.50 208.80,694.50 210.90,696.10 212.90,695.20 215.80,697.50 217.60,690.80 218.90,686.00 220.30,687.40 222.30,685.40 224.30,686.70 226.30,684.00 229.70,686.00 231.00,674.60 232.40,663.80 233.10,661.10 234.40,655.10 235.80,653.70 237.10,655.10 239.10,651.70 241.80,653.10 242.50,646.30 243.20,642.30 244.50,631.50 245.90,630.20 246.50,624.80 247.20,623.50 248.10,616.70" fill="none" stroke="#739f3a" stroke-width="1.8" stroke-linejoin="round"/>
<rect x="56.50" y="612.80" width="201.10" height="187.00" fill="none" stroke="#111" stroke-width="1.9"/>
<line x1="64.60" y1="838.00" x2="72.70" y2="838.00" stroke="#7aae3c" stroke-width="1.40" />
<text x="77.30" y="840.20" font-size="6.60" text-anchor="start" fill="#222" font-weight="normal" textLength="48.50" lengthAdjust="spacingAndGlyphs" >Enrichment profile</text>
<line x1="131.50" y1="838.00" x2="138.50" y2="838.00" stroke="#111" stroke-width="1.60" />
<text x="143.50" y="840.20" font-size="6.60" text-anchor="start" fill="#222" font-weight="normal" textLength="11.00" lengthAdjust="spacingAndGlyphs" >Hits</text>
<line x1="159.00" y1="835.60" x2="165.00" y2="835.60" stroke="#aaa" stroke-width="0.80" />
<line x1="170.80" y1="838.00" x2="175.40" y2="838.00" stroke="#999" stroke-width="1.20" />
<text x="178.50" y="840.20" font-size="6.60" text-anchor="start" fill="#222" font-weight="normal" textLength="61.00" lengthAdjust="spacingAndGlyphs" >Ranking metric scores</text>
<line x1="331.90" y1="614.00" x2="331.90" y2="799.00" stroke="#f0f0f0" stroke-width="0.60" />
<line x1="354.80" y1="614.00" x2="354.80" y2="799.00" stroke="#f0f0f0" stroke-width="0.60" />
<line x1="377.70" y1="614.00" x2="377.70" y2="799.00" stroke="#f0f0f0" stroke-width="0.60" />
<line x1="400.60" y1="614.00" x2="400.60" y2="799.00" stroke="#f0f0f0" stroke-width="0.60" />
<line x1="423.50" y1="614.00" x2="423.50" y2="799.00" stroke="#f0f0f0" stroke-width="0.60" />
<line x1="446.40" y1="614.00" x2="446.40" y2="799.00" stroke="#f0f0f0" stroke-width="0.60" />
<line x1="469.30" y1="614.00" x2="469.30" y2="799.00" stroke="#f0f0f0" stroke-width="0.60" />
<line x1="492.20" y1="614.00" x2="492.20" y2="799.00" stroke="#f0f0f0" stroke-width="0.60" />
<text x="323.30" y="590.00" font-size="12.90" text-anchor="start" fill="#1a1a1a" font-weight="normal" textLength="172.50" lengthAdjust="spacingAndGlyphs" >Genes down-regulated in LSCs</text>
<text x="339.50" y="606.30" font-size="9.40" text-anchor="start" fill="#1a1a1a" font-weight="normal" textLength="138.10" lengthAdjust="spacingAndGlyphs" >Enrichment plot: DOWN IN LSCS</text>
<text transform="translate(280.00,691.40) rotate(-90)" font-size="9.40" text-anchor="start" fill="#222" font-weight="bold" textLength="66.00" lengthAdjust="spacingAndGlyphs">Enrichment score (ES)</text>
<text transform="translate(283.90,820.30) rotate(-90)" font-size="9.40" text-anchor="start" fill="#222" font-weight="bold" textLength="97.00" lengthAdjust="spacingAndGlyphs">Ranked list metric (Signal2Noise)</text>
<line x1="304.70" y1="618.20" x2="309.00" y2="618.20" stroke="#1c1c1c" stroke-width="1.60" />
<text x="300.00" y="620.40" font-size="6.30" text-anchor="end" fill="#222" font-weight="normal" letter-spacing="0.3">0.35</text>
<line x1="309.00" y1="618.20" x2="510.10" y2="618.20" stroke="#f0f0f0" stroke-width="0.60" />
<line x1="304.70" y1="629.10" x2="309.00" y2="629.10" stroke="#1c1c1c" stroke-width="1.60" />
<text x="300.00" y="631.30" font-size="6.30" text-anchor="end" fill="#222" font-weight="normal" letter-spacing="0.3">0.30</text>
<line x1="309.00" y1="629.10" x2="510.10" y2="629.10" stroke="#f0f0f0" stroke-width="0.60" />
<line x1="304.70" y1="640.00" x2="309.00" y2="640.00" stroke="#1c1c1c" stroke-width="1.60" />
<text x="300.00" y="642.20" font-size="6.30" text-anchor="end" fill="#222" font-weight="normal" letter-spacing="0.3">0.25</text>
<line x1="309.00" y1="640.00" x2="510.10" y2="640.00" stroke="#f0f0f0" stroke-width="0.60" />
<line x1="304.70" y1="650.90" x2="309.00" y2="650.90" stroke="#1c1c1c" stroke-width="1.60" />
<text x="300.00" y="653.10" font-size="6.30" text-anchor="end" fill="#222" font-weight="normal" letter-spacing="0.3">0.20</text>
<line x1="309.00" y1="650.90" x2="510.10" y2="650.90" stroke="#f0f0f0" stroke-width="0.60" />
<line x1="304.70" y1="661.80" x2="309.00" y2="661.80" stroke="#1c1c1c" stroke-width="1.60" />
<text x="300.00" y="664.00" font-size="6.30" text-anchor="end" fill="#222" font-weight="normal" letter-spacing="0.3">0.15</text>
<line x1="309.00" y1="661.80" x2="510.10" y2="661.80" stroke="#f0f0f0" stroke-width="0.60" />
<line x1="304.70" y1="672.60" x2="309.00" y2="672.60" stroke="#1c1c1c" stroke-width="1.60" />
<text x="300.00" y="674.80" font-size="6.30" text-anchor="end" fill="#222" font-weight="normal" letter-spacing="0.3">0.10</text>
<line x1="309.00" y1="672.60" x2="510.10" y2="672.60" stroke="#f0f0f0" stroke-width="0.60" />
<line x1="304.70" y1="683.40" x2="309.00" y2="683.40" stroke="#1c1c1c" stroke-width="1.60" />
<text x="300.00" y="685.60" font-size="6.30" text-anchor="end" fill="#222" font-weight="normal" letter-spacing="0.3">0.05</text>
<line x1="309.00" y1="683.40" x2="510.10" y2="683.40" stroke="#f0f0f0" stroke-width="0.60" />
<line x1="304.70" y1="694.20" x2="309.00" y2="694.20" stroke="#1c1c1c" stroke-width="1.60" />
<text x="300.00" y="696.40" font-size="6.30" text-anchor="end" fill="#222" font-weight="normal" letter-spacing="0.3">0.00</text>
<line x1="309.00" y1="694.20" x2="510.10" y2="694.20" stroke="#f0f0f0" stroke-width="0.60" />
<line x1="309.00" y1="694.20" x2="510.10" y2="694.20" stroke="#b8b8b8" stroke-width="0.90" />
<line x1="309.00" y1="701.80" x2="510.10" y2="701.80" stroke="#c4c4c4" stroke-width="0.90" />
<line x1="304.70" y1="742.40" x2="309.00" y2="742.40" stroke="#1c1c1c" stroke-width="1.60" />
<text x="300.00" y="744.60" font-size="6.30" text-anchor="end" fill="#222" font-weight="normal" letter-spacing="0.3">5.0</text>
<line x1="304.70" y1="756.30" x2="309.00" y2="756.30" stroke="#1c1c1c" stroke-width="1.60" />
<text x="300.00" y="758.50" font-size="6.30" text-anchor="end" fill="#222" font-weight="normal" letter-spacing="0.3">2.5</text>
<line x1="304.70" y1="770.30" x2="309.00" y2="770.30" stroke="#1c1c1c" stroke-width="1.60" />
<text x="300.00" y="772.50" font-size="6.30" text-anchor="end" fill="#222" font-weight="normal" letter-spacing="0.3">0.0</text>
<line x1="304.70" y1="784.30" x2="309.00" y2="784.30" stroke="#1c1c1c" stroke-width="1.60" />
<text x="300.00" y="786.50" font-size="6.30" text-anchor="end" fill="#222" font-weight="normal" letter-spacing="0.3">-2.5</text>
<line x1="304.70" y1="798.30" x2="309.00" y2="798.30" stroke="#1c1c1c" stroke-width="1.60" />
<text x="300.00" y="800.50" font-size="6.30" text-anchor="end" fill="#222" font-weight="normal" letter-spacing="0.3">-5.0</text>
<line x1="309.00" y1="799.80" x2="309.00" y2="804.60" stroke="#1c1c1c" stroke-width="1.60" />
<text x="309.00" y="815.00" font-size="6.50" text-anchor="middle" fill="#2a2a2a" font-weight="normal" letter-spacing="0.25">0</text>
<line x1="331.90" y1="799.80" x2="331.90" y2="804.60" stroke="#1c1c1c" stroke-width="1.60" />
<text x="331.90" y="815.00" font-size="6.50" text-anchor="middle" fill="#2a2a2a" font-weight="normal" letter-spacing="0.25">2,500</text>
<line x1="354.80" y1="799.80" x2="354.80" y2="804.60" stroke="#1c1c1c" stroke-width="1.60" />
<text x="354.80" y="815.00" font-size="6.50" text-anchor="middle" fill="#2a2a2a" font-weight="normal" letter-spacing="0.25">5,000</text>
<line x1="377.70" y1="799.80" x2="377.70" y2="804.60" stroke="#1c1c1c" stroke-width="1.60" />
<text x="377.70" y="815.00" font-size="6.50" text-anchor="middle" fill="#2a2a2a" font-weight="normal" letter-spacing="0.25">7,500</text>
<line x1="400.60" y1="799.80" x2="400.60" y2="804.60" stroke="#1c1c1c" stroke-width="1.60" />
<text x="400.60" y="815.00" font-size="6.50" text-anchor="middle" fill="#2a2a2a" font-weight="normal" letter-spacing="0.25">10,000</text>
<line x1="423.50" y1="799.80" x2="423.50" y2="804.60" stroke="#1c1c1c" stroke-width="1.60" />
<text x="423.50" y="815.00" font-size="6.50" text-anchor="middle" fill="#2a2a2a" font-weight="normal" letter-spacing="0.25">12,500</text>
<line x1="446.40" y1="799.80" x2="446.40" y2="804.60" stroke="#1c1c1c" stroke-width="1.60" />
<text x="446.40" y="815.00" font-size="6.50" text-anchor="middle" fill="#2a2a2a" font-weight="normal" letter-spacing="0.25">15,000</text>
<line x1="469.30" y1="799.80" x2="469.30" y2="804.60" stroke="#1c1c1c" stroke-width="1.60" />
<text x="469.30" y="815.00" font-size="6.50" text-anchor="middle" fill="#2a2a2a" font-weight="normal" letter-spacing="0.25">17,500</text>
<line x1="492.20" y1="799.80" x2="492.20" y2="804.60" stroke="#1c1c1c" stroke-width="1.60" />
<text x="492.20" y="815.00" font-size="6.50" text-anchor="middle" fill="#2a2a2a" font-weight="normal" letter-spacing="0.25">20,000</text>
<text x="374.30" y="829.00" font-size="9.60" text-anchor="start" fill="#1a1a1a" font-weight="bold" textLength="70.50" lengthAdjust="spacingAndGlyphs" >Rank in ordered dataset</text>
<rect x="309.88" y="703.6" width="1.25" height="28.4" fill="#777"/>
<rect x="311.18" y="703.6" width="1.25" height="28.4" fill="#777"/>
<rect x="313.07" y="703.6" width="1.25" height="28.4" fill="#777"/>
<rect x="315.18" y="703.6" width="1.25" height="28.4" fill="#777"/>
<rect x="317.48" y="703.6" width="1.25" height="28.4" fill="#777"/>
<rect x="321.07" y="703.6" width="1.25" height="28.4" fill="#777"/>
<rect x="324.57" y="703.6" width="1.85" height="28.4" fill="#333"/>
<rect x="327.38" y="703.6" width="1.25" height="28.4" fill="#777"/>
<rect x="332.77" y="703.6" width="1.25" height="28.4" fill="#777"/>
<rect x="336.38" y="703.6" width="1.25" height="28.4" fill="#777"/>
<rect x="338.07" y="703.6" width="1.25" height="28.4" fill="#777"/>
<rect x="340.18" y="703.6" width="1.25" height="28.4" fill="#777"/>
<rect x="343.98" y="703.6" width="1.25" height="28.4" fill="#777"/>
<rect x="345.38" y="703.6" width="1.25" height="28.4" fill="#777"/>
<rect x="349.07" y="703.6" width="1.25" height="28.4" fill="#777"/>
<rect x="352.68" y="703.6" width="1.65" height="28.4" fill="#333"/>
<rect x="356.68" y="703.6" width="1.25" height="28.4" fill="#777"/>
<rect x="375.07" y="703.6" width="1.25" height="28.4" fill="#888"/>
<rect x="382.38" y="703.6" width="1.25" height="28.4" fill="#888"/>
<rect x="387.07" y="703.6" width="1.25" height="28.4" fill="#888"/>
<rect x="392.18" y="703.6" width="2.05" height="28.4" fill="#999"/>
<rect x="397.38" y="703.6" width="1.25" height="28.4" fill="#888"/>
<rect x="399.38" y="703.6" width="1.25" height="28.4" fill="#777"/>
<rect x="403.77" y="703.6" width="1.25" height="28.4" fill="#777"/>
<rect x="415.77" y="703.6" width="1.25" height="28.4" fill="#888"/>
<rect x="424.98" y="703.6" width="1.25" height="28.4" fill="#888"/>
<rect x="431.38" y="703.6" width="1.25" height="28.4" fill="#888"/>
<rect x="439.88" y="703.6" width="1.25" height="28.4" fill="#999"/>
<rect x="441.77" y="703.6" width="1.25" height="28.4" fill="#999"/>
<rect x="447.57" y="703.6" width="1.25" height="28.4" fill="#888"/>
<rect x="449.98" y="703.6" width="1.25" height="28.4" fill="#888"/>
<rect x="453.77" y="703.6" width="1.25" height="28.4" fill="#888"/>
<rect x="457.88" y="703.6" width="1.25" height="28.4" fill="#888"/>
<rect x="466.77" y="703.6" width="1.25" height="28.4" fill="#999"/>
<rect x="468.57" y="703.6" width="1.25" height="28.4" fill="#999"/>
<rect x="470.38" y="703.6" width="1.25" height="28.4" fill="#999"/>
<rect x="472.38" y="703.6" width="1.25" height="28.4" fill="#999"/>
<rect x="481.88" y="703.6" width="1.25" height="28.4" fill="#999"/>
<rect x="310.00" y="732.4" width="20.00" height="7.2" fill="#cc4352"/>
<rect x="330.00" y="732.4" width="27.00" height="7.2" fill="#d9707f"/>
<rect x="357.00" y="732.4" width="21.00" height="7.2" fill="#e6b9d4"/>
<rect x="378.00" y="732.4" width="50.50" height="7.2" fill="#d9cfe6"/>
<rect x="428.50" y="732.4" width="18.00" height="7.2" fill="#7a6fbd"/>
<rect x="446.50" y="732.4" width="36.80" height="7.2" fill="#5a4cab"/>
<rect x="483.30" y="732.4" width="17.20" height="7.2" fill="#3c2b97"/>
<line x1="377.30" y1="740.00" x2="377.30" y2="799.00" stroke="#c8c8c8" stroke-width="0.70" stroke-dasharray="1.5,1.5"/>
<polygon points="309.60,770.30 309.60,757.46 310.10,757.77 310.60,758.07 311.10,758.36 311.60,758.64 312.10,758.92 312.60,759.19 313.10,759.46 313.60,759.72 314.10,759.97 314.60,760.22 315.10,760.46 315.60,760.70 316.10,760.93 316.60,761.15 317.10,761.37 317.60,761.59 318.10,761.80 318.60,762.00 319.10,762.20 319.60,762.40 320.10,762.59 320.60,762.78 321.10,762.96 321.60,763.14 322.10,763.31 322.60,763.48 323.10,763.65 323.60,763.81 324.10,763.97 324.60,764.13 325.10,764.28 325.60,764.43 326.10,764.57 326.60,764.71 327.10,764.85 327.60,764.98 328.10,765.12 328.60,765.25 329.10,765.37 329.60,765.49 330.10,765.61 330.60,765.73 331.10,765.85 331.60,765.96 332.10,766.07 332.60,766.18 333.10,766.28 333.60,766.38 334.10,766.48 334.60,766.58 335.10,766.68 335.60,766.77 336.10,766.86 336.60,766.95 337.10,767.04 337.60,767.12 338.10,767.21 338.60,767.29 339.10,767.37 339.60,767.44 340.10,767.52 340.60,767.59 341.10,767.67 341.60,767.74 342.10,767.81 342.60,767.88 343.10,767.94 343.60,768.01 344.10,768.07 344.60,768.13 345.10,768.19 345.60,768.25 346.10,768.31 346.60,768.37 347.10,768.42 347.60,768.48 348.10,768.53 348.60,768.58 349.10,768.63 349.60,768.68 350.10,768.73 350.60,768.78 351.10,768.83 351.60,768.87 352.10,768.92 352.60,768.96 353.10,769.00 353.60,769.04 354.10,769.09 354.60,769.13 355.10,769.16 355.60,769.20 356.10,769.24 356.60,769.28 357.10,769.31 357.60,769.35 358.10,769.38 358.60,769.42 359.10,769.45 359.60,769.48 360.10,769.51 360.60,769.54 361.10,769.57 361.60,769.60 362.10,769.63 362.60,769.66 363.10,769.69 363.60,769.72 364.10,769.74 364.60,769.77 365.10,769.80 365.60,769.82 366.10,769.85 366.60,769.87 367.10,769.89 367.60,769.92 368.10,769.94 368.60,769.96 369.10,769.98 369.60,770.00 370.10,770.03 370.60,770.05 371.10,770.07 371.60,770.09 372.10,770.11 372.60,770.12 373.10,770.14 373.60,770.16 374.10,770.18 374.60,770.20 375.10,770.21 375.60,770.23 376.10,770.25 376.60,770.27 377.10,770.28 377.60,770.31 378.10,770.34 378.60,770.37 379.10,770.40 379.60,770.43 380.10,770.46 380.60,770.49 381.10,770.52 381.60,770.55 382.10,770.58 382.60,770.61 383.10,770.64 383.60,770.67 384.10,770.70 384.60,770.73 385.10,770.76 385.60,770.79 386.10,770.82 386.60,770.85 387.10,770.88 387.60,770.91 388.10,770.94 388.60,770.97 389.10,771.00 389.60,771.03 390.10,771.06 390.60,771.09 391.10,771.12 391.60,771.15 392.10,771.18 392.60,771.21 393.10,771.24 393.60,771.27 394.10,771.30 394.60,771.33 395.10,771.36 395.60,771.39 396.10,771.42 396.60,771.45 397.10,771.48 397.60,771.51 398.10,771.54 398.60,771.57 399.10,771.60 399.60,771.63 400.10,771.66 400.60,771.69 401.10,771.72 401.60,771.75 402.10,771.78 402.60,771.81 403.10,771.84 403.60,771.87 404.10,771.90 404.60,771.93 405.10,771.96 405.60,771.99 406.10,772.02 406.60,772.05 407.10,772.08 407.60,772.11 408.10,772.14 408.60,772.17 409.10,772.20 409.60,772.23 410.10,772.26 410.60,772.29 411.10,772.32 411.60,772.35 412.10,772.38 412.60,772.41 413.10,772.44 413.60,772.47 414.10,772.50 414.60,772.53 415.10,772.56 415.60,772.59 416.10,772.62 416.60,772.65 417.10,772.68 417.60,772.71 418.10,772.75 418.60,772.78 419.10,772.81 419.60,772.84 420.10,772.87 420.60,772.90 421.10,772.93 421.60,772.96 422.10,772.99 422.60,773.02 423.10,773.05 423.60,773.08 424.10,773.11 424.60,773.14 425.10,773.17 425.60,773.20 426.10,773.23 426.60,773.26 427.10,773.29 427.60,773.33 428.10,773.36 428.60,773.39 429.10,773.42 429.60,773.45 430.10,773.48 430.60,773.51 431.10,773.54 431.60,773.57 432.10,773.60 432.60,773.63 433.10,773.67 433.60,773.70 434.10,773.73 434.60,773.76 435.10,773.79 435.60,773.82 436.10,773.85 436.60,773.88 437.10,773.92 437.60,773.95 438.10,773.98 438.60,774.01 439.10,774.04 439.60,774.07 440.10,774.11 440.60,774.14 441.10,774.17 441.60,774.20 442.10,774.23 442.60,774.27 443.10,774.30 443.60,774.33 444.10,774.36 444.60,774.40 445.10,774.43 445.60,774.46 446.10,774.50 446.60,774.53 447.10,774.56 447.60,774.60 448.10,774.63 448.60,774.66 449.10,774.70 449.60,774.73 450.10,774.76 450.60,774.80 451.10,774.83 451.60,774.87 452.10,774.90 452.60,774.94 453.10,774.97 453.60,775.01 454.10,775.04 454.60,775.08 455.10,775.12 455.60,775.15 456.10,775.19 456.60,775.23 457.10,775.26 457.60,775.30 458.10,775.34 458.60,775.38 459.10,775.41 459.60,775.45 460.10,775.49 460.60,775.53 461.10,775.57 461.60,775.61 462.10,775.65 462.60,775.69 463.10,775.73 463.60,775.77 464.10,775.82 464.60,775.86 465.10,775.90 465.60,775.94 466.10,775.99 466.60,776.03 467.10,776.08 467.60,776.12 468.10,776.17 468.60,776.22 469.10,776.26 469.60,776.31 470.10,776.36 470.60,776.41 471.10,776.46 471.60,776.51 472.10,776.57 472.60,776.62 473.10,776.67 473.60,776.73 474.10,776.78 474.60,776.84 475.10,776.90 475.60,776.96 476.10,777.02 476.60,777.08 477.10,777.14 477.60,777.21 478.10,777.27 478.60,777.34 479.10,777.41 479.60,777.48 480.10,777.55 480.60,777.62 481.10,777.70 481.60,777.77 482.10,777.85 482.60,777.93 483.10,778.01 483.60,778.10 484.10,778.18 484.60,778.27 485.10,778.36 485.60,778.45 486.10,778.55 486.60,778.65 487.10,778.75 487.60,778.85 488.10,778.96 488.60,779.07 489.10,779.18 489.60,779.30 490.10,779.41 490.60,779.54 491.10,779.66 491.60,779.79 492.10,779.93 492.60,780.06 493.10,780.21 493.60,780.35 494.10,780.50 494.60,780.66 495.10,780.82 495.60,780.99 496.10,781.16 496.60,781.33 497.10,781.52 497.60,781.70 498.10,781.90 498.60,782.10 499.10,782.31 499.60,782.52 500.10,782.75 500.60,782.97 501.10,783.21 501.60,783.46 501.60,770.30" fill="#c9c9c9"/>
<text x="357.90" y="772.00" font-size="4.60" text-anchor="start" fill="#222" font-weight="bold" textLength="35.50" lengthAdjust="spacingAndGlyphs" >Zero cross at 7461</text>
<text x="310.00" y="744.90" font-size="4.80" text-anchor="start" fill="#8a2c3c" font-weight="normal" textLength="59.50" lengthAdjust="spacingAndGlyphs" >'CELL' (positively correlated)</text>
<text x="310.90" y="757.80" font-size="17.00" text-anchor="start" fill="#a8182a" font-weight="normal" textLength="23.80" lengthAdjust="spacingAndGlyphs" >cell</text>
<text x="408.90" y="797.30" font-size="4.80" text-anchor="start" fill="#33306e" font-weight="normal" textLength="62.00" lengthAdjust="spacingAndGlyphs" >'AML' (negatively correlated)</text>
<text x="474.00" y="796.00" font-size="16.30" text-anchor="start" fill="#262068" font-weight="normal" textLength="32.60" lengthAdjust="spacingAndGlyphs" >AML</text>
<polyline points="310.40,694.10 311.10,663.80 312.00,665.20 313.10,653.10 314.40,654.40 315.50,645.00 316.80,647.00 318.20,636.90 319.50,638.90 320.90,631.50 321.80,632.90 323.80,627.50 324.90,630.20 326.50,620.10 327.90,616.70 330.60,620.80 333.30,623.50 335.30,620.10 336.60,621.40 338.60,618.10 340.30,619.70 342.00,617.40 344.00,619.70 346.00,618.10 348.10,619.40 350.80,619.70 352.80,622.10 354.50,620.80 356.10,622.80 358.20,620.10 359.50,621.40 375.00,640.30 390.00,655.00 400.00,666.25 403.75,669.50 406.25,671.25 415.00,678.75 417.50,681.25 425.00,687.50 427.50,690.00 430.00,688.25 432.50,693.00 435.00,691.25 438.75,696.25 442.50,692.00 444.50,694.50 447.50,691.25 450.00,695.00 452.00,690.00 454.50,692.50 456.25,688.75 458.75,692.00 460.75,687.50 465.00,693.75 467.50,697.50 468.75,692.50 470.00,690.00 471.25,685.00 473.00,673.75 476.25,677.50 482.50,683.75 483.75,675.00 500.00,693.75" fill="none" stroke="#d6ebab" stroke-width="3.6" stroke-linejoin="round" opacity="0.8"/>
<polyline points="310.40,694.10 311.10,663.80 312.00,665.20 313.10,653.10 314.40,654.40 315.50,645.00 316.80,647.00 318.20,636.90 319.50,638.90 320.90,631.50 321.80,632.90 323.80,627.50 324.90,630.20 326.50,620.10 327.90,616.70 330.60,620.80 333.30,623.50 335.30,620.10 336.60,621.40 338.60,618.10 340.30,619.70 342.00,617.40 344.00,619.70 346.00,618.10 348.10,619.40 350.80,619.70 352.80,622.10 354.50,620.80 356.10,622.80 358.20,620.10 359.50,621.40 375.00,640.30 390.00,655.00 400.00,666.25 403.75,669.50 406.25,671.25 415.00,678.75 417.50,681.25 425.00,687.50 427.50,690.00 430.00,688.25 432.50,693.00 435.00,691.25 438.75,696.25 442.50,692.00 444.50,694.50 447.50,691.25 450.00,695.00 452.00,690.00 454.50,692.50 456.25,688.75 458.75,692.00 460.75,687.50 465.00,693.75 467.50,697.50 468.75,692.50 470.00,690.00 471.25,685.00 473.00,673.75 476.25,677.50 482.50,683.75 483.75,675.00 500.00,693.75" fill="none" stroke="#739f3a" stroke-width="1.8" stroke-linejoin="round"/>
<rect x="309.00" y="612.80" width="201.10" height="187.00" fill="none" stroke="#111" stroke-width="1.9"/>
<line x1="317.10" y1="838.00" x2="325.20" y2="838.00" stroke="#7aae3c" stroke-width="1.40" />
<text x="329.80" y="840.20" font-size="6.60" text-anchor="start" fill="#222" font-weight="normal" textLength="48.50" lengthAdjust="spacingAndGlyphs" >Enrichment profile</text>
<line x1="384.00" y1="838.00" x2="391.00" y2="838.00" stroke="#111" stroke-width="1.60" />
<text x="396.00" y="840.20" font-size="6.60" text-anchor="start" fill="#222" font-weight="normal" textLength="11.00" lengthAdjust="spacingAndGlyphs" >Hits</text>
<line x1="411.50" y1="835.60" x2="417.50" y2="835.60" stroke="#aaa" stroke-width="0.80" />
<line x1="423.30" y1="838.00" x2="427.90" y2="838.00" stroke="#999" stroke-width="1.20" />
<text x="431.00" y="840.20" font-size="6.60" text-anchor="start" fill="#222" font-weight="normal" textLength="61.00" lengthAdjust="spacingAndGlyphs" >Ranking metric scores</text>
<rect x="1" y="1" width="518" height="851" fill="none" stroke="#1a1a1a" stroke-width="2"/>
</svg>
</body></html>
